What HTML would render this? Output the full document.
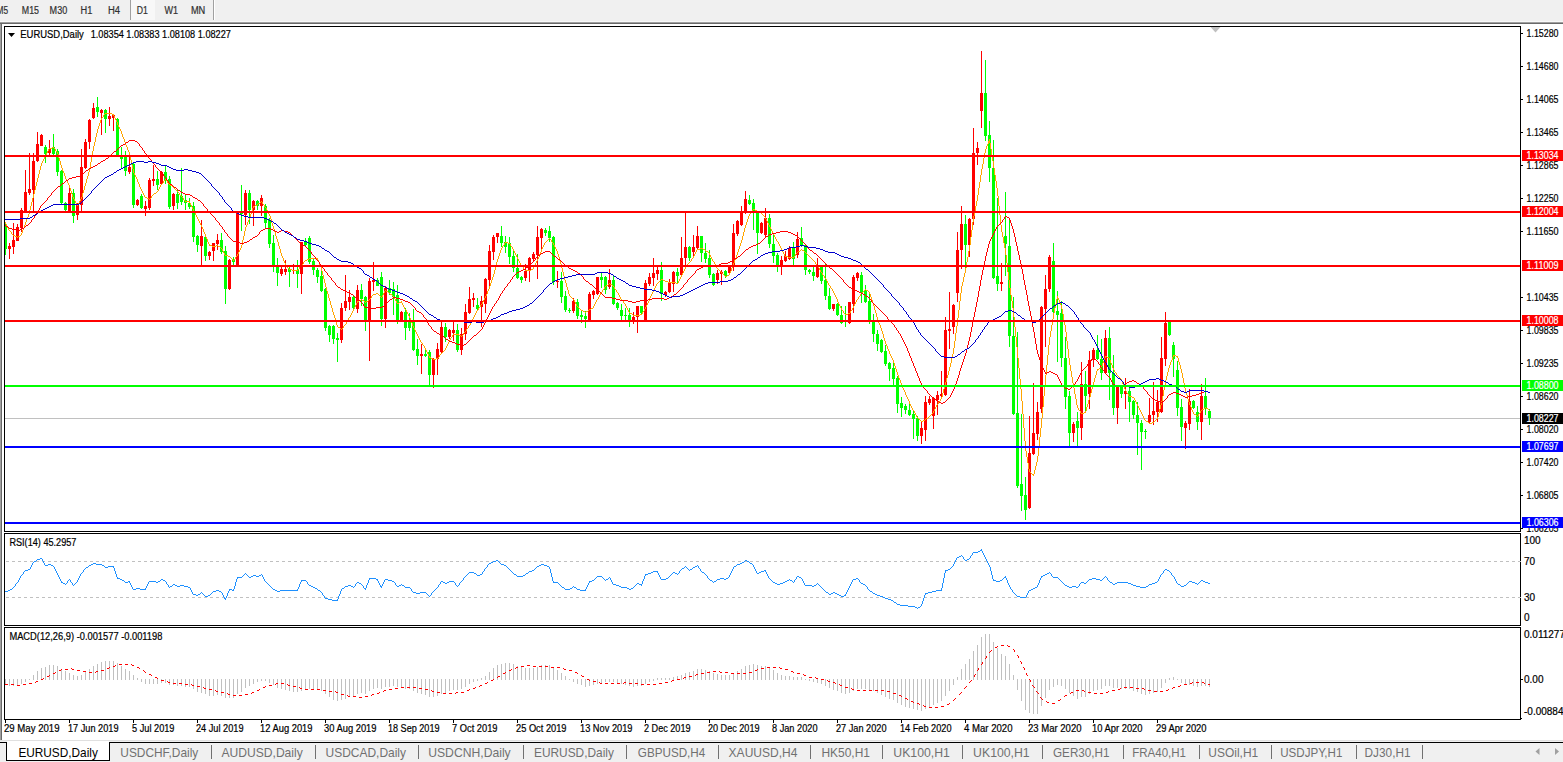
<!DOCTYPE html><html><head><meta charset="utf-8"><title>EURUSD,Daily</title>
<style>html,body{margin:0;padding:0;background:#fff;overflow:hidden}svg{display:block}text{font-family:"Liberation Sans",sans-serif;}</style></head><body>
<svg width="1563" height="762" viewBox="0 0 1563 762" shape-rendering="crispEdges">
<defs><clipPath id="cm"><rect x="5" y="27" width="1515" height="504"/></clipPath><clipPath id="cr"><rect x="5" y="534" width="1515" height="91"/></clipPath><clipPath id="cd"><rect x="5" y="628" width="1515" height="91"/></clipPath></defs>
<rect x="0" y="0" width="1563" height="762" fill="#ffffff"/>
<rect x="0" y="0" width="1563" height="22" fill="#f0f0f0"/>
<rect x="0" y="21" width="1563" height="1" fill="#f8f8f8"/>
<rect x="0" y="22" width="1563" height="1" fill="#a0a0a0"/>
<rect x="0" y="23" width="1563" height="1" fill="#696969"/>
<rect x="0" y="24" width="1" height="718" fill="#a0a0a0"/>
<rect x="1" y="24" width="1" height="718" fill="#696969"/>
<rect x="131" y="0" width="24" height="20" fill="#f8f8f8"/>
<rect x="130" y="0" width="1" height="20" fill="#a0a0a0"/>
<rect x="213" y="0" width="1" height="20" fill="#a0a0a0"/>
<rect x="214" y="0" width="1" height="20" fill="#ffffff"/>
<text x="-3.5" y="14" font-size="10" fill="#303030" stroke="#303030" stroke-width="0.2" textLength="11.6" lengthAdjust="spacingAndGlyphs" >M5</text>
<text x="21.8" y="14" font-size="10" fill="#303030" stroke="#303030" stroke-width="0.2" textLength="17.2" lengthAdjust="spacingAndGlyphs" >M15</text>
<text x="49.6" y="14" font-size="10" fill="#303030" stroke="#303030" stroke-width="0.2" textLength="17.6" lengthAdjust="spacingAndGlyphs" >M30</text>
<text x="80.6" y="14" font-size="10" fill="#303030" stroke="#303030" stroke-width="0.2" textLength="11.8" lengthAdjust="spacingAndGlyphs" >H1</text>
<text x="107.9" y="14" font-size="10" fill="#303030" stroke="#303030" stroke-width="0.2" textLength="12.1" lengthAdjust="spacingAndGlyphs" >H4</text>
<text x="136.8" y="14" font-size="10" fill="#303030" stroke="#303030" stroke-width="0.2" textLength="11.1" lengthAdjust="spacingAndGlyphs" >D1</text>
<text x="164.4" y="14" font-size="10" fill="#303030" stroke="#303030" stroke-width="0.2" textLength="13.6" lengthAdjust="spacingAndGlyphs" >W1</text>
<text x="190.9" y="14" font-size="10" fill="#303030" stroke="#303030" stroke-width="0.2" textLength="14.4" lengthAdjust="spacingAndGlyphs" >MN</text>
<rect x="4" y="26" width="1517" height="1" fill="#000"/>
<rect x="4" y="531" width="1517" height="1" fill="#000"/>
<rect x="4" y="26" width="1" height="506" fill="#000"/>
<rect x="1520" y="26" width="1" height="506" fill="#000"/>
<rect x="4" y="533" width="1517" height="1" fill="#000"/>
<rect x="4" y="625" width="1517" height="1" fill="#000"/>
<rect x="4" y="533" width="1" height="93" fill="#000"/>
<rect x="1520" y="533" width="1" height="93" fill="#000"/>
<rect x="4" y="627" width="1517" height="1" fill="#000"/>
<rect x="4" y="719" width="1517" height="1" fill="#000"/>
<rect x="4" y="627" width="1" height="93" fill="#000"/>
<rect x="1520" y="627" width="1" height="93" fill="#000"/>
<rect x="5" y="418" width="1515" height="1" fill="#c0c0c0"/>
<g clip-path="url(#cm)">
<rect x="5" y="222" width="1" height="33" fill="#00ff00"/>
<rect x="4" y="224" width="3" height="25" fill="#00ff00"/>
<rect x="9" y="243" width="1" height="16" fill="#ff0000"/>
<rect x="8" y="246" width="3" height="3" fill="#ff0000"/>
<rect x="13" y="223" width="1" height="31" fill="#ff0000"/>
<rect x="12" y="240" width="3" height="7" fill="#ff0000"/>
<rect x="17" y="224" width="1" height="17" fill="#ff0000"/>
<rect x="16" y="227" width="3" height="14" fill="#ff0000"/>
<rect x="21" y="208" width="1" height="24" fill="#ff0000"/>
<rect x="20" y="210" width="3" height="18" fill="#ff0000"/>
<rect x="25" y="170" width="1" height="43" fill="#ff0000"/>
<rect x="24" y="192" width="3" height="20" fill="#ff0000"/>
<rect x="29" y="153" width="1" height="42" fill="#ff0000"/>
<rect x="28" y="189" width="3" height="4" fill="#ff0000"/>
<rect x="33" y="153" width="1" height="59" fill="#ff0000"/>
<rect x="32" y="161" width="3" height="29" fill="#ff0000"/>
<rect x="37" y="132" width="1" height="30" fill="#ff0000"/>
<rect x="36" y="144" width="3" height="17" fill="#ff0000"/>
<rect x="41" y="134" width="1" height="12" fill="#ff0000"/>
<rect x="40" y="135" width="3" height="11" fill="#ff0000"/>
<rect x="45" y="145" width="1" height="18" fill="#00ff00"/>
<rect x="44" y="147" width="3" height="7" fill="#00ff00"/>
<rect x="49" y="140" width="1" height="17" fill="#ff0000"/>
<rect x="48" y="149" width="3" height="4" fill="#ff0000"/>
<rect x="53" y="134" width="1" height="21" fill="#00ff00"/>
<rect x="52" y="147" width="3" height="7" fill="#00ff00"/>
<rect x="57" y="149" width="1" height="27" fill="#00ff00"/>
<rect x="56" y="151" width="3" height="21" fill="#00ff00"/>
<rect x="61" y="170" width="1" height="34" fill="#00ff00"/>
<rect x="60" y="171" width="3" height="32" fill="#00ff00"/>
<rect x="65" y="202" width="1" height="9" fill="#00ff00"/>
<rect x="64" y="203" width="3" height="7" fill="#00ff00"/>
<rect x="69" y="188" width="1" height="24" fill="#ff0000"/>
<rect x="68" y="193" width="3" height="18" fill="#ff0000"/>
<rect x="73" y="189" width="1" height="34" fill="#00ff00"/>
<rect x="72" y="193" width="3" height="23" fill="#00ff00"/>
<rect x="77" y="203" width="1" height="17" fill="#ff0000"/>
<rect x="76" y="204" width="3" height="11" fill="#ff0000"/>
<rect x="81" y="149" width="1" height="63" fill="#ff0000"/>
<rect x="80" y="167" width="3" height="38" fill="#ff0000"/>
<rect x="85" y="139" width="1" height="30" fill="#ff0000"/>
<rect x="84" y="142" width="3" height="26" fill="#ff0000"/>
<rect x="89" y="119" width="1" height="30" fill="#ff0000"/>
<rect x="88" y="120" width="3" height="22" fill="#ff0000"/>
<rect x="93" y="103" width="1" height="16" fill="#ff0000"/>
<rect x="92" y="108" width="3" height="10" fill="#ff0000"/>
<rect x="97" y="97" width="1" height="20" fill="#00ff00"/>
<rect x="96" y="107" width="3" height="5" fill="#00ff00"/>
<rect x="101" y="109" width="1" height="26" fill="#ff0000"/>
<rect x="100" y="110" width="3" height="3" fill="#ff0000"/>
<rect x="105" y="109" width="1" height="24" fill="#00ff00"/>
<rect x="104" y="110" width="3" height="9" fill="#00ff00"/>
<rect x="109" y="107" width="1" height="19" fill="#ff0000"/>
<rect x="108" y="116" width="3" height="3" fill="#ff0000"/>
<rect x="113" y="114" width="1" height="17" fill="#ff0000"/>
<rect x="112" y="115" width="3" height="3" fill="#ff0000"/>
<rect x="117" y="118" width="1" height="38" fill="#00ff00"/>
<rect x="116" y="119" width="3" height="36" fill="#00ff00"/>
<rect x="121" y="147" width="1" height="21" fill="#00ff00"/>
<rect x="120" y="155" width="3" height="4" fill="#00ff00"/>
<rect x="125" y="151" width="1" height="25" fill="#00ff00"/>
<rect x="124" y="157" width="3" height="14" fill="#00ff00"/>
<rect x="129" y="157" width="1" height="17" fill="#ff0000"/>
<rect x="128" y="167" width="3" height="5" fill="#ff0000"/>
<rect x="133" y="162" width="1" height="46" fill="#00ff00"/>
<rect x="132" y="164" width="3" height="41" fill="#00ff00"/>
<rect x="137" y="199" width="1" height="7" fill="#ff0000"/>
<rect x="136" y="200" width="3" height="5" fill="#ff0000"/>
<rect x="141" y="194" width="1" height="15" fill="#00ff00"/>
<rect x="140" y="196" width="3" height="12" fill="#00ff00"/>
<rect x="145" y="201" width="1" height="15" fill="#ff0000"/>
<rect x="144" y="206" width="3" height="3" fill="#ff0000"/>
<rect x="149" y="178" width="1" height="32" fill="#ff0000"/>
<rect x="148" y="180" width="3" height="28" fill="#ff0000"/>
<rect x="153" y="165" width="1" height="21" fill="#ff0000"/>
<rect x="152" y="179" width="3" height="2" fill="#ff0000"/>
<rect x="157" y="171" width="1" height="19" fill="#00ff00"/>
<rect x="156" y="179" width="3" height="6" fill="#00ff00"/>
<rect x="161" y="171" width="1" height="14" fill="#ff0000"/>
<rect x="160" y="172" width="3" height="12" fill="#ff0000"/>
<rect x="165" y="166" width="1" height="18" fill="#00ff00"/>
<rect x="164" y="172" width="3" height="8" fill="#00ff00"/>
<rect x="169" y="176" width="1" height="33" fill="#00ff00"/>
<rect x="168" y="179" width="3" height="28" fill="#00ff00"/>
<rect x="173" y="193" width="1" height="17" fill="#ff0000"/>
<rect x="172" y="194" width="3" height="12" fill="#ff0000"/>
<rect x="177" y="190" width="1" height="19" fill="#00ff00"/>
<rect x="176" y="194" width="3" height="9" fill="#00ff00"/>
<rect x="181" y="168" width="1" height="37" fill="#00ff00"/>
<rect x="180" y="196" width="3" height="6" fill="#00ff00"/>
<rect x="185" y="195" width="1" height="15" fill="#00ff00"/>
<rect x="184" y="200" width="3" height="3" fill="#00ff00"/>
<rect x="189" y="198" width="1" height="11" fill="#00ff00"/>
<rect x="188" y="203" width="3" height="4" fill="#00ff00"/>
<rect x="193" y="202" width="1" height="40" fill="#00ff00"/>
<rect x="192" y="206" width="3" height="31" fill="#00ff00"/>
<rect x="197" y="235" width="1" height="17" fill="#00ff00"/>
<rect x="196" y="236" width="3" height="9" fill="#00ff00"/>
<rect x="201" y="220" width="1" height="46" fill="#ff0000"/>
<rect x="200" y="236" width="3" height="10" fill="#ff0000"/>
<rect x="205" y="237" width="1" height="24" fill="#00ff00"/>
<rect x="204" y="237" width="3" height="19" fill="#00ff00"/>
<rect x="209" y="251" width="1" height="9" fill="#ff0000"/>
<rect x="208" y="252" width="3" height="4" fill="#ff0000"/>
<rect x="213" y="243" width="1" height="18" fill="#ff0000"/>
<rect x="212" y="243" width="3" height="8" fill="#ff0000"/>
<rect x="217" y="234" width="1" height="16" fill="#ff0000"/>
<rect x="216" y="240" width="3" height="4" fill="#ff0000"/>
<rect x="221" y="233" width="1" height="21" fill="#00ff00"/>
<rect x="220" y="240" width="3" height="12" fill="#00ff00"/>
<rect x="225" y="246" width="1" height="58" fill="#00ff00"/>
<rect x="224" y="251" width="3" height="38" fill="#00ff00"/>
<rect x="229" y="259" width="1" height="31" fill="#ff0000"/>
<rect x="228" y="260" width="3" height="29" fill="#ff0000"/>
<rect x="233" y="257" width="1" height="8" fill="#00ff00"/>
<rect x="232" y="259" width="3" height="3" fill="#00ff00"/>
<rect x="237" y="212" width="1" height="54" fill="#ff0000"/>
<rect x="236" y="213" width="3" height="52" fill="#ff0000"/>
<rect x="241" y="185" width="1" height="46" fill="#00ff00"/>
<rect x="240" y="212" width="3" height="2" fill="#00ff00"/>
<rect x="245" y="190" width="1" height="35" fill="#ff0000"/>
<rect x="244" y="193" width="3" height="22" fill="#ff0000"/>
<rect x="249" y="190" width="1" height="34" fill="#00ff00"/>
<rect x="248" y="193" width="3" height="17" fill="#00ff00"/>
<rect x="253" y="200" width="1" height="26" fill="#ff0000"/>
<rect x="252" y="201" width="3" height="9" fill="#ff0000"/>
<rect x="257" y="200" width="1" height="10" fill="#00ff00"/>
<rect x="256" y="201" width="3" height="5" fill="#00ff00"/>
<rect x="261" y="195" width="1" height="21" fill="#ff0000"/>
<rect x="260" y="198" width="3" height="8" fill="#ff0000"/>
<rect x="265" y="204" width="1" height="25" fill="#00ff00"/>
<rect x="264" y="206" width="3" height="17" fill="#00ff00"/>
<rect x="269" y="218" width="1" height="30" fill="#00ff00"/>
<rect x="268" y="220" width="3" height="24" fill="#00ff00"/>
<rect x="273" y="235" width="1" height="37" fill="#00ff00"/>
<rect x="272" y="243" width="3" height="23" fill="#00ff00"/>
<rect x="277" y="258" width="1" height="28" fill="#00ff00"/>
<rect x="276" y="266" width="3" height="7" fill="#00ff00"/>
<rect x="281" y="267" width="1" height="9" fill="#ff0000"/>
<rect x="280" y="269" width="3" height="5" fill="#ff0000"/>
<rect x="285" y="260" width="1" height="15" fill="#ff0000"/>
<rect x="284" y="269" width="3" height="3" fill="#ff0000"/>
<rect x="289" y="267" width="1" height="20" fill="#00ff00"/>
<rect x="288" y="269" width="3" height="3" fill="#00ff00"/>
<rect x="293" y="264" width="1" height="10" fill="#ff0000"/>
<rect x="292" y="270" width="3" height="1" fill="#ff0000"/>
<rect x="297" y="260" width="1" height="28" fill="#00ff00"/>
<rect x="296" y="270" width="3" height="4" fill="#00ff00"/>
<rect x="301" y="242" width="1" height="52" fill="#ff0000"/>
<rect x="300" y="242" width="3" height="32" fill="#ff0000"/>
<rect x="305" y="238" width="1" height="9" fill="#00ff00"/>
<rect x="304" y="242" width="3" height="3" fill="#00ff00"/>
<rect x="309" y="236" width="1" height="28" fill="#00ff00"/>
<rect x="308" y="238" width="3" height="24" fill="#00ff00"/>
<rect x="313" y="258" width="1" height="17" fill="#00ff00"/>
<rect x="312" y="261" width="3" height="9" fill="#00ff00"/>
<rect x="317" y="268" width="1" height="15" fill="#00ff00"/>
<rect x="316" y="270" width="3" height="7" fill="#00ff00"/>
<rect x="321" y="268" width="1" height="24" fill="#00ff00"/>
<rect x="320" y="276" width="3" height="15" fill="#00ff00"/>
<rect x="325" y="288" width="1" height="43" fill="#00ff00"/>
<rect x="324" y="289" width="3" height="39" fill="#00ff00"/>
<rect x="329" y="325" width="1" height="17" fill="#00ff00"/>
<rect x="328" y="326" width="3" height="9" fill="#00ff00"/>
<rect x="333" y="325" width="1" height="19" fill="#00ff00"/>
<rect x="332" y="326" width="3" height="13" fill="#00ff00"/>
<rect x="337" y="333" width="1" height="29" fill="#00ff00"/>
<rect x="336" y="338" width="3" height="2" fill="#00ff00"/>
<rect x="341" y="303" width="1" height="40" fill="#ff0000"/>
<rect x="340" y="308" width="3" height="32" fill="#ff0000"/>
<rect x="345" y="275" width="1" height="36" fill="#ff0000"/>
<rect x="344" y="301" width="3" height="7" fill="#ff0000"/>
<rect x="349" y="290" width="1" height="20" fill="#ff0000"/>
<rect x="348" y="297" width="3" height="5" fill="#ff0000"/>
<rect x="353" y="295" width="1" height="15" fill="#00ff00"/>
<rect x="352" y="297" width="3" height="11" fill="#00ff00"/>
<rect x="357" y="285" width="1" height="28" fill="#ff0000"/>
<rect x="356" y="290" width="3" height="19" fill="#ff0000"/>
<rect x="361" y="284" width="1" height="22" fill="#00ff00"/>
<rect x="360" y="290" width="3" height="9" fill="#00ff00"/>
<rect x="365" y="296" width="1" height="35" fill="#00ff00"/>
<rect x="364" y="297" width="3" height="23" fill="#00ff00"/>
<rect x="369" y="278" width="1" height="83" fill="#ff0000"/>
<rect x="368" y="281" width="3" height="39" fill="#ff0000"/>
<rect x="373" y="262" width="1" height="29" fill="#ff0000"/>
<rect x="372" y="280" width="3" height="2" fill="#ff0000"/>
<rect x="377" y="278" width="1" height="8" fill="#00ff00"/>
<rect x="376" y="280" width="3" height="6" fill="#00ff00"/>
<rect x="381" y="272" width="1" height="54" fill="#00ff00"/>
<rect x="380" y="277" width="3" height="42" fill="#00ff00"/>
<rect x="385" y="286" width="1" height="42" fill="#ff0000"/>
<rect x="384" y="288" width="3" height="31" fill="#ff0000"/>
<rect x="389" y="280" width="1" height="15" fill="#00ff00"/>
<rect x="388" y="288" width="3" height="5" fill="#00ff00"/>
<rect x="393" y="282" width="1" height="33" fill="#00ff00"/>
<rect x="392" y="289" width="3" height="8" fill="#00ff00"/>
<rect x="397" y="285" width="1" height="39" fill="#00ff00"/>
<rect x="396" y="295" width="3" height="25" fill="#00ff00"/>
<rect x="401" y="311" width="1" height="11" fill="#ff0000"/>
<rect x="400" y="312" width="3" height="8" fill="#ff0000"/>
<rect x="405" y="308" width="1" height="32" fill="#00ff00"/>
<rect x="404" y="312" width="3" height="16" fill="#00ff00"/>
<rect x="409" y="313" width="1" height="18" fill="#00ff00"/>
<rect x="408" y="320" width="3" height="8" fill="#00ff00"/>
<rect x="413" y="309" width="1" height="42" fill="#00ff00"/>
<rect x="412" y="322" width="3" height="28" fill="#00ff00"/>
<rect x="417" y="339" width="1" height="26" fill="#00ff00"/>
<rect x="416" y="349" width="3" height="7" fill="#00ff00"/>
<rect x="421" y="344" width="1" height="30" fill="#ff0000"/>
<rect x="420" y="354" width="3" height="2" fill="#ff0000"/>
<rect x="425" y="350" width="1" height="7" fill="#00ff00"/>
<rect x="424" y="354" width="3" height="2" fill="#00ff00"/>
<rect x="429" y="350" width="1" height="36" fill="#00ff00"/>
<rect x="428" y="352" width="3" height="23" fill="#00ff00"/>
<rect x="433" y="358" width="1" height="30" fill="#ff0000"/>
<rect x="432" y="359" width="3" height="16" fill="#ff0000"/>
<rect x="437" y="343" width="1" height="32" fill="#ff0000"/>
<rect x="436" y="349" width="3" height="10" fill="#ff0000"/>
<rect x="441" y="321" width="1" height="32" fill="#ff0000"/>
<rect x="440" y="327" width="3" height="25" fill="#ff0000"/>
<rect x="445" y="323" width="1" height="19" fill="#00ff00"/>
<rect x="444" y="327" width="3" height="10" fill="#00ff00"/>
<rect x="449" y="329" width="1" height="10" fill="#ff0000"/>
<rect x="448" y="330" width="3" height="7" fill="#ff0000"/>
<rect x="453" y="321" width="1" height="20" fill="#ff0000"/>
<rect x="452" y="330" width="3" height="3" fill="#ff0000"/>
<rect x="457" y="324" width="1" height="28" fill="#00ff00"/>
<rect x="456" y="330" width="3" height="20" fill="#00ff00"/>
<rect x="461" y="328" width="1" height="27" fill="#ff0000"/>
<rect x="460" y="334" width="3" height="16" fill="#ff0000"/>
<rect x="465" y="304" width="1" height="36" fill="#ff0000"/>
<rect x="464" y="312" width="3" height="22" fill="#ff0000"/>
<rect x="469" y="287" width="1" height="27" fill="#ff0000"/>
<rect x="468" y="299" width="3" height="14" fill="#ff0000"/>
<rect x="473" y="293" width="1" height="14" fill="#ff0000"/>
<rect x="472" y="298" width="3" height="2" fill="#ff0000"/>
<rect x="477" y="298" width="1" height="12" fill="#00ff00"/>
<rect x="476" y="305" width="3" height="4" fill="#00ff00"/>
<rect x="481" y="296" width="1" height="31" fill="#ff0000"/>
<rect x="480" y="301" width="3" height="6" fill="#ff0000"/>
<rect x="485" y="278" width="1" height="35" fill="#ff0000"/>
<rect x="484" y="279" width="3" height="25" fill="#ff0000"/>
<rect x="489" y="245" width="1" height="43" fill="#ff0000"/>
<rect x="488" y="251" width="3" height="29" fill="#ff0000"/>
<rect x="493" y="235" width="1" height="25" fill="#ff0000"/>
<rect x="492" y="237" width="3" height="15" fill="#ff0000"/>
<rect x="497" y="233" width="1" height="10" fill="#ff0000"/>
<rect x="496" y="233" width="3" height="4" fill="#ff0000"/>
<rect x="501" y="226" width="1" height="21" fill="#00ff00"/>
<rect x="500" y="236" width="3" height="7" fill="#00ff00"/>
<rect x="505" y="236" width="1" height="17" fill="#00ff00"/>
<rect x="504" y="242" width="3" height="5" fill="#00ff00"/>
<rect x="509" y="237" width="1" height="27" fill="#00ff00"/>
<rect x="508" y="243" width="3" height="14" fill="#00ff00"/>
<rect x="513" y="250" width="1" height="22" fill="#00ff00"/>
<rect x="512" y="256" width="3" height="12" fill="#00ff00"/>
<rect x="517" y="254" width="1" height="25" fill="#00ff00"/>
<rect x="516" y="268" width="3" height="10" fill="#00ff00"/>
<rect x="521" y="276" width="1" height="7" fill="#00ff00"/>
<rect x="520" y="277" width="3" height="3" fill="#00ff00"/>
<rect x="525" y="264" width="1" height="17" fill="#ff0000"/>
<rect x="524" y="271" width="3" height="7" fill="#ff0000"/>
<rect x="529" y="257" width="1" height="25" fill="#ff0000"/>
<rect x="528" y="258" width="3" height="13" fill="#ff0000"/>
<rect x="533" y="252" width="1" height="10" fill="#ff0000"/>
<rect x="532" y="254" width="3" height="5" fill="#ff0000"/>
<rect x="537" y="226" width="1" height="53" fill="#ff0000"/>
<rect x="536" y="237" width="3" height="18" fill="#ff0000"/>
<rect x="541" y="228" width="1" height="23" fill="#ff0000"/>
<rect x="540" y="229" width="3" height="9" fill="#ff0000"/>
<rect x="545" y="228" width="1" height="8" fill="#00ff00"/>
<rect x="544" y="230" width="3" height="3" fill="#00ff00"/>
<rect x="549" y="226" width="1" height="16" fill="#00ff00"/>
<rect x="548" y="231" width="3" height="7" fill="#00ff00"/>
<rect x="553" y="236" width="1" height="49" fill="#00ff00"/>
<rect x="552" y="237" width="3" height="45" fill="#00ff00"/>
<rect x="557" y="271" width="1" height="17" fill="#ff0000"/>
<rect x="556" y="281" width="3" height="1" fill="#ff0000"/>
<rect x="561" y="272" width="1" height="31" fill="#00ff00"/>
<rect x="560" y="281" width="3" height="16" fill="#00ff00"/>
<rect x="565" y="291" width="1" height="21" fill="#00ff00"/>
<rect x="564" y="296" width="3" height="14" fill="#00ff00"/>
<rect x="569" y="308" width="1" height="5" fill="#00ff00"/>
<rect x="568" y="310" width="3" height="1" fill="#00ff00"/>
<rect x="573" y="298" width="1" height="15" fill="#ff0000"/>
<rect x="572" y="301" width="3" height="10" fill="#ff0000"/>
<rect x="577" y="299" width="1" height="20" fill="#00ff00"/>
<rect x="576" y="302" width="3" height="14" fill="#00ff00"/>
<rect x="581" y="310" width="1" height="13" fill="#00ff00"/>
<rect x="580" y="315" width="3" height="2" fill="#00ff00"/>
<rect x="585" y="311" width="1" height="17" fill="#00ff00"/>
<rect x="584" y="316" width="3" height="3" fill="#00ff00"/>
<rect x="589" y="292" width="1" height="28" fill="#ff0000"/>
<rect x="588" y="294" width="3" height="26" fill="#ff0000"/>
<rect x="593" y="290" width="1" height="9" fill="#ff0000"/>
<rect x="592" y="291" width="3" height="4" fill="#ff0000"/>
<rect x="597" y="277" width="1" height="18" fill="#ff0000"/>
<rect x="596" y="277" width="3" height="17" fill="#ff0000"/>
<rect x="601" y="273" width="1" height="15" fill="#00ff00"/>
<rect x="600" y="277" width="3" height="3" fill="#00ff00"/>
<rect x="605" y="276" width="1" height="18" fill="#00ff00"/>
<rect x="604" y="277" width="3" height="13" fill="#00ff00"/>
<rect x="609" y="269" width="1" height="20" fill="#ff0000"/>
<rect x="608" y="280" width="3" height="7" fill="#ff0000"/>
<rect x="613" y="275" width="1" height="30" fill="#00ff00"/>
<rect x="612" y="280" width="3" height="24" fill="#00ff00"/>
<rect x="617" y="302" width="1" height="8" fill="#00ff00"/>
<rect x="616" y="303" width="3" height="5" fill="#00ff00"/>
<rect x="621" y="304" width="1" height="16" fill="#00ff00"/>
<rect x="620" y="310" width="3" height="6" fill="#00ff00"/>
<rect x="625" y="308" width="1" height="12" fill="#00ff00"/>
<rect x="624" y="315" width="3" height="1" fill="#00ff00"/>
<rect x="629" y="308" width="1" height="19" fill="#00ff00"/>
<rect x="628" y="315" width="3" height="7" fill="#00ff00"/>
<rect x="633" y="312" width="1" height="12" fill="#ff0000"/>
<rect x="632" y="317" width="3" height="5" fill="#ff0000"/>
<rect x="637" y="306" width="1" height="27" fill="#ff0000"/>
<rect x="636" y="306" width="3" height="11" fill="#ff0000"/>
<rect x="641" y="306" width="1" height="9" fill="#00ff00"/>
<rect x="640" y="306" width="3" height="7" fill="#00ff00"/>
<rect x="645" y="280" width="1" height="41" fill="#ff0000"/>
<rect x="644" y="283" width="3" height="37" fill="#ff0000"/>
<rect x="649" y="273" width="1" height="13" fill="#ff0000"/>
<rect x="648" y="277" width="3" height="7" fill="#ff0000"/>
<rect x="653" y="258" width="1" height="28" fill="#ff0000"/>
<rect x="652" y="273" width="3" height="5" fill="#ff0000"/>
<rect x="657" y="266" width="1" height="14" fill="#ff0000"/>
<rect x="656" y="270" width="3" height="4" fill="#ff0000"/>
<rect x="661" y="262" width="1" height="39" fill="#00ff00"/>
<rect x="660" y="270" width="3" height="24" fill="#00ff00"/>
<rect x="665" y="291" width="1" height="6" fill="#ff0000"/>
<rect x="664" y="292" width="3" height="3" fill="#ff0000"/>
<rect x="669" y="279" width="1" height="14" fill="#ff0000"/>
<rect x="668" y="283" width="3" height="9" fill="#ff0000"/>
<rect x="673" y="271" width="1" height="21" fill="#ff0000"/>
<rect x="672" y="272" width="3" height="12" fill="#ff0000"/>
<rect x="677" y="268" width="1" height="16" fill="#00ff00"/>
<rect x="676" y="272" width="3" height="4" fill="#00ff00"/>
<rect x="681" y="237" width="1" height="40" fill="#ff0000"/>
<rect x="680" y="258" width="3" height="17" fill="#ff0000"/>
<rect x="685" y="213" width="1" height="53" fill="#ff0000"/>
<rect x="684" y="247" width="3" height="11" fill="#ff0000"/>
<rect x="689" y="246" width="1" height="15" fill="#00ff00"/>
<rect x="688" y="247" width="3" height="11" fill="#00ff00"/>
<rect x="693" y="235" width="1" height="21" fill="#ff0000"/>
<rect x="692" y="247" width="3" height="5" fill="#ff0000"/>
<rect x="697" y="226" width="1" height="23" fill="#ff0000"/>
<rect x="696" y="236" width="3" height="12" fill="#ff0000"/>
<rect x="701" y="236" width="1" height="26" fill="#00ff00"/>
<rect x="700" y="236" width="3" height="17" fill="#00ff00"/>
<rect x="705" y="243" width="1" height="20" fill="#00ff00"/>
<rect x="704" y="253" width="3" height="6" fill="#00ff00"/>
<rect x="709" y="250" width="1" height="28" fill="#00ff00"/>
<rect x="708" y="258" width="3" height="17" fill="#00ff00"/>
<rect x="713" y="273" width="1" height="13" fill="#00ff00"/>
<rect x="712" y="274" width="3" height="11" fill="#00ff00"/>
<rect x="717" y="270" width="1" height="14" fill="#ff0000"/>
<rect x="716" y="273" width="3" height="7" fill="#ff0000"/>
<rect x="721" y="270" width="1" height="15" fill="#ff0000"/>
<rect x="720" y="272" width="3" height="2" fill="#ff0000"/>
<rect x="725" y="270" width="1" height="8" fill="#00ff00"/>
<rect x="724" y="271" width="3" height="5" fill="#00ff00"/>
<rect x="729" y="265" width="1" height="10" fill="#ff0000"/>
<rect x="728" y="266" width="3" height="7" fill="#ff0000"/>
<rect x="733" y="224" width="1" height="47" fill="#ff0000"/>
<rect x="732" y="233" width="3" height="34" fill="#ff0000"/>
<rect x="737" y="220" width="1" height="16" fill="#ff0000"/>
<rect x="736" y="221" width="3" height="13" fill="#ff0000"/>
<rect x="741" y="206" width="1" height="20" fill="#ff0000"/>
<rect x="740" y="212" width="3" height="13" fill="#ff0000"/>
<rect x="745" y="191" width="1" height="23" fill="#ff0000"/>
<rect x="744" y="199" width="3" height="14" fill="#ff0000"/>
<rect x="749" y="195" width="1" height="10" fill="#00ff00"/>
<rect x="748" y="200" width="3" height="4" fill="#00ff00"/>
<rect x="753" y="199" width="1" height="31" fill="#00ff00"/>
<rect x="752" y="203" width="3" height="8" fill="#00ff00"/>
<rect x="757" y="212" width="1" height="42" fill="#00ff00"/>
<rect x="756" y="213" width="3" height="20" fill="#00ff00"/>
<rect x="761" y="222" width="1" height="12" fill="#ff0000"/>
<rect x="760" y="223" width="3" height="10" fill="#ff0000"/>
<rect x="765" y="208" width="1" height="29" fill="#ff0000"/>
<rect x="764" y="218" width="3" height="17" fill="#ff0000"/>
<rect x="769" y="214" width="1" height="34" fill="#00ff00"/>
<rect x="768" y="218" width="3" height="26" fill="#00ff00"/>
<rect x="773" y="233" width="1" height="30" fill="#00ff00"/>
<rect x="772" y="244" width="3" height="12" fill="#00ff00"/>
<rect x="777" y="253" width="1" height="19" fill="#00ff00"/>
<rect x="776" y="255" width="3" height="10" fill="#00ff00"/>
<rect x="781" y="256" width="1" height="19" fill="#ff0000"/>
<rect x="780" y="260" width="3" height="5" fill="#ff0000"/>
<rect x="785" y="251" width="1" height="11" fill="#ff0000"/>
<rect x="784" y="256" width="3" height="5" fill="#ff0000"/>
<rect x="789" y="246" width="1" height="14" fill="#ff0000"/>
<rect x="788" y="248" width="3" height="11" fill="#ff0000"/>
<rect x="793" y="242" width="1" height="23" fill="#00ff00"/>
<rect x="792" y="248" width="3" height="11" fill="#00ff00"/>
<rect x="797" y="232" width="1" height="26" fill="#ff0000"/>
<rect x="796" y="239" width="3" height="16" fill="#ff0000"/>
<rect x="801" y="227" width="1" height="20" fill="#00ff00"/>
<rect x="800" y="238" width="3" height="8" fill="#00ff00"/>
<rect x="805" y="244" width="1" height="31" fill="#00ff00"/>
<rect x="804" y="245" width="3" height="25" fill="#00ff00"/>
<rect x="809" y="269" width="1" height="5" fill="#00ff00"/>
<rect x="808" y="270" width="3" height="2" fill="#00ff00"/>
<rect x="813" y="267" width="1" height="14" fill="#00ff00"/>
<rect x="812" y="272" width="3" height="4" fill="#00ff00"/>
<rect x="817" y="258" width="1" height="20" fill="#ff0000"/>
<rect x="816" y="267" width="3" height="10" fill="#ff0000"/>
<rect x="821" y="266" width="1" height="18" fill="#00ff00"/>
<rect x="820" y="267" width="3" height="14" fill="#00ff00"/>
<rect x="825" y="264" width="1" height="36" fill="#00ff00"/>
<rect x="824" y="280" width="3" height="16" fill="#00ff00"/>
<rect x="829" y="288" width="1" height="22" fill="#00ff00"/>
<rect x="828" y="296" width="3" height="13" fill="#00ff00"/>
<rect x="833" y="304" width="1" height="7" fill="#ff0000"/>
<rect x="832" y="304" width="3" height="5" fill="#ff0000"/>
<rect x="837" y="303" width="1" height="13" fill="#00ff00"/>
<rect x="836" y="304" width="3" height="11" fill="#00ff00"/>
<rect x="841" y="306" width="1" height="18" fill="#00ff00"/>
<rect x="840" y="315" width="3" height="8" fill="#00ff00"/>
<rect x="845" y="306" width="1" height="21" fill="#00ff00"/>
<rect x="844" y="320" width="3" height="2" fill="#00ff00"/>
<rect x="849" y="302" width="1" height="22" fill="#ff0000"/>
<rect x="848" y="302" width="3" height="21" fill="#ff0000"/>
<rect x="853" y="275" width="1" height="38" fill="#ff0000"/>
<rect x="852" y="277" width="3" height="27" fill="#ff0000"/>
<rect x="857" y="272" width="1" height="9" fill="#ff0000"/>
<rect x="856" y="273" width="3" height="5" fill="#ff0000"/>
<rect x="861" y="272" width="1" height="31" fill="#00ff00"/>
<rect x="860" y="275" width="3" height="18" fill="#00ff00"/>
<rect x="865" y="285" width="1" height="18" fill="#00ff00"/>
<rect x="864" y="290" width="3" height="12" fill="#00ff00"/>
<rect x="869" y="294" width="1" height="30" fill="#00ff00"/>
<rect x="868" y="301" width="3" height="19" fill="#00ff00"/>
<rect x="873" y="314" width="1" height="28" fill="#00ff00"/>
<rect x="872" y="320" width="3" height="14" fill="#00ff00"/>
<rect x="877" y="330" width="1" height="21" fill="#00ff00"/>
<rect x="876" y="334" width="3" height="10" fill="#00ff00"/>
<rect x="881" y="339" width="1" height="14" fill="#00ff00"/>
<rect x="880" y="340" width="3" height="12" fill="#00ff00"/>
<rect x="885" y="345" width="1" height="21" fill="#00ff00"/>
<rect x="884" y="351" width="3" height="13" fill="#00ff00"/>
<rect x="889" y="362" width="1" height="19" fill="#00ff00"/>
<rect x="888" y="363" width="3" height="6" fill="#00ff00"/>
<rect x="893" y="361" width="1" height="24" fill="#00ff00"/>
<rect x="892" y="368" width="3" height="11" fill="#00ff00"/>
<rect x="897" y="376" width="1" height="37" fill="#00ff00"/>
<rect x="896" y="378" width="3" height="26" fill="#00ff00"/>
<rect x="901" y="397" width="1" height="20" fill="#00ff00"/>
<rect x="900" y="403" width="3" height="5" fill="#00ff00"/>
<rect x="905" y="404" width="1" height="10" fill="#00ff00"/>
<rect x="904" y="406" width="3" height="4" fill="#00ff00"/>
<rect x="909" y="403" width="1" height="13" fill="#00ff00"/>
<rect x="908" y="410" width="3" height="5" fill="#00ff00"/>
<rect x="913" y="410" width="1" height="29" fill="#00ff00"/>
<rect x="912" y="414" width="3" height="5" fill="#00ff00"/>
<rect x="917" y="416" width="1" height="25" fill="#00ff00"/>
<rect x="916" y="418" width="3" height="18" fill="#00ff00"/>
<rect x="921" y="422" width="1" height="22" fill="#ff0000"/>
<rect x="920" y="428" width="3" height="8" fill="#ff0000"/>
<rect x="925" y="396" width="1" height="45" fill="#ff0000"/>
<rect x="924" y="402" width="3" height="28" fill="#ff0000"/>
<rect x="929" y="396" width="1" height="9" fill="#ff0000"/>
<rect x="928" y="399" width="3" height="4" fill="#ff0000"/>
<rect x="933" y="397" width="1" height="32" fill="#ff0000"/>
<rect x="932" y="398" width="3" height="18" fill="#ff0000"/>
<rect x="937" y="391" width="1" height="24" fill="#ff0000"/>
<rect x="936" y="395" width="3" height="5" fill="#ff0000"/>
<rect x="941" y="371" width="1" height="27" fill="#ff0000"/>
<rect x="940" y="394" width="3" height="2" fill="#ff0000"/>
<rect x="945" y="317" width="1" height="79" fill="#ff0000"/>
<rect x="944" y="330" width="3" height="65" fill="#ff0000"/>
<rect x="949" y="292" width="1" height="57" fill="#ff0000"/>
<rect x="948" y="329" width="3" height="2" fill="#ff0000"/>
<rect x="953" y="304" width="1" height="30" fill="#ff0000"/>
<rect x="952" y="305" width="3" height="22" fill="#ff0000"/>
<rect x="957" y="232" width="1" height="70" fill="#ff0000"/>
<rect x="956" y="250" width="3" height="43" fill="#ff0000"/>
<rect x="961" y="206" width="1" height="63" fill="#ff0000"/>
<rect x="960" y="224" width="3" height="26" fill="#ff0000"/>
<rect x="965" y="215" width="1" height="53" fill="#00ff00"/>
<rect x="964" y="224" width="3" height="21" fill="#00ff00"/>
<rect x="969" y="218" width="1" height="39" fill="#ff0000"/>
<rect x="968" y="219" width="3" height="26" fill="#ff0000"/>
<rect x="973" y="128" width="1" height="97" fill="#ff0000"/>
<rect x="972" y="153" width="3" height="66" fill="#ff0000"/>
<rect x="977" y="142" width="1" height="23" fill="#ff0000"/>
<rect x="976" y="148" width="3" height="5" fill="#ff0000"/>
<rect x="981" y="51" width="1" height="77" fill="#ff0000"/>
<rect x="980" y="93" width="3" height="18" fill="#ff0000"/>
<rect x="985" y="60" width="1" height="81" fill="#00ff00"/>
<rect x="984" y="93" width="3" height="43" fill="#00ff00"/>
<rect x="989" y="121" width="1" height="61" fill="#00ff00"/>
<rect x="988" y="135" width="3" height="33" fill="#00ff00"/>
<rect x="993" y="140" width="1" height="139" fill="#00ff00"/>
<rect x="992" y="168" width="3" height="110" fill="#00ff00"/>
<rect x="997" y="198" width="1" height="93" fill="#00ff00"/>
<rect x="996" y="276" width="3" height="8" fill="#00ff00"/>
<rect x="1001" y="263" width="1" height="28" fill="#ff0000"/>
<rect x="1000" y="282" width="3" height="2" fill="#ff0000"/>
<rect x="1005" y="192" width="1" height="84" fill="#00ff00"/>
<rect x="1004" y="236" width="3" height="8" fill="#00ff00"/>
<rect x="1009" y="218" width="1" height="129" fill="#00ff00"/>
<rect x="1008" y="246" width="3" height="90" fill="#00ff00"/>
<rect x="1013" y="297" width="1" height="118" fill="#00ff00"/>
<rect x="1012" y="336" width="3" height="78" fill="#00ff00"/>
<rect x="1017" y="332" width="1" height="156" fill="#00ff00"/>
<rect x="1016" y="413" width="3" height="73" fill="#00ff00"/>
<rect x="1021" y="414" width="1" height="97" fill="#00ff00"/>
<rect x="1020" y="484" width="3" height="12" fill="#00ff00"/>
<rect x="1025" y="477" width="1" height="43" fill="#00ff00"/>
<rect x="1024" y="495" width="3" height="15" fill="#00ff00"/>
<rect x="1029" y="416" width="1" height="93" fill="#ff0000"/>
<rect x="1028" y="453" width="3" height="55" fill="#ff0000"/>
<rect x="1033" y="383" width="1" height="72" fill="#ff0000"/>
<rect x="1032" y="433" width="3" height="21" fill="#ff0000"/>
<rect x="1037" y="402" width="1" height="38" fill="#ff0000"/>
<rect x="1036" y="412" width="3" height="22" fill="#ff0000"/>
<rect x="1041" y="306" width="1" height="107" fill="#ff0000"/>
<rect x="1040" y="307" width="3" height="102" fill="#ff0000"/>
<rect x="1045" y="275" width="1" height="72" fill="#ff0000"/>
<rect x="1044" y="289" width="3" height="20" fill="#ff0000"/>
<rect x="1049" y="255" width="1" height="37" fill="#ff0000"/>
<rect x="1048" y="257" width="3" height="32" fill="#ff0000"/>
<rect x="1053" y="243" width="1" height="70" fill="#00ff00"/>
<rect x="1052" y="261" width="3" height="51" fill="#00ff00"/>
<rect x="1057" y="291" width="1" height="71" fill="#00ff00"/>
<rect x="1056" y="311" width="3" height="4" fill="#00ff00"/>
<rect x="1061" y="301" width="1" height="66" fill="#00ff00"/>
<rect x="1060" y="313" width="3" height="45" fill="#00ff00"/>
<rect x="1065" y="337" width="1" height="72" fill="#00ff00"/>
<rect x="1064" y="358" width="3" height="39" fill="#00ff00"/>
<rect x="1069" y="391" width="1" height="55" fill="#00ff00"/>
<rect x="1068" y="396" width="3" height="37" fill="#00ff00"/>
<rect x="1073" y="422" width="1" height="20" fill="#ff0000"/>
<rect x="1072" y="424" width="3" height="9" fill="#ff0000"/>
<rect x="1077" y="412" width="1" height="36" fill="#00ff00"/>
<rect x="1076" y="421" width="3" height="7" fill="#00ff00"/>
<rect x="1081" y="362" width="1" height="78" fill="#ff0000"/>
<rect x="1080" y="384" width="3" height="44" fill="#ff0000"/>
<rect x="1085" y="371" width="1" height="40" fill="#00ff00"/>
<rect x="1084" y="384" width="3" height="12" fill="#00ff00"/>
<rect x="1089" y="351" width="1" height="58" fill="#ff0000"/>
<rect x="1088" y="360" width="3" height="34" fill="#ff0000"/>
<rect x="1093" y="348" width="1" height="19" fill="#ff0000"/>
<rect x="1092" y="350" width="3" height="10" fill="#ff0000"/>
<rect x="1097" y="335" width="1" height="25" fill="#00ff00"/>
<rect x="1096" y="350" width="3" height="9" fill="#00ff00"/>
<rect x="1101" y="339" width="1" height="41" fill="#00ff00"/>
<rect x="1100" y="359" width="3" height="14" fill="#00ff00"/>
<rect x="1105" y="330" width="1" height="44" fill="#ff0000"/>
<rect x="1104" y="338" width="3" height="35" fill="#ff0000"/>
<rect x="1109" y="327" width="1" height="73" fill="#00ff00"/>
<rect x="1108" y="338" width="3" height="35" fill="#00ff00"/>
<rect x="1113" y="355" width="1" height="60" fill="#00ff00"/>
<rect x="1112" y="373" width="3" height="35" fill="#00ff00"/>
<rect x="1117" y="386" width="1" height="38" fill="#ff0000"/>
<rect x="1116" y="387" width="3" height="21" fill="#ff0000"/>
<rect x="1121" y="386" width="1" height="12" fill="#00ff00"/>
<rect x="1120" y="387" width="3" height="7" fill="#00ff00"/>
<rect x="1125" y="378" width="1" height="31" fill="#ff0000"/>
<rect x="1124" y="391" width="3" height="3" fill="#ff0000"/>
<rect x="1129" y="388" width="1" height="34" fill="#00ff00"/>
<rect x="1128" y="391" width="3" height="11" fill="#00ff00"/>
<rect x="1133" y="400" width="1" height="19" fill="#00ff00"/>
<rect x="1132" y="401" width="3" height="14" fill="#00ff00"/>
<rect x="1137" y="402" width="1" height="53" fill="#00ff00"/>
<rect x="1136" y="415" width="3" height="8" fill="#00ff00"/>
<rect x="1141" y="420" width="1" height="50" fill="#00ff00"/>
<rect x="1140" y="423" width="3" height="9" fill="#00ff00"/>
<rect x="1145" y="429" width="1" height="10" fill="#00ff00"/>
<rect x="1144" y="431" width="3" height="1" fill="#00ff00"/>
<rect x="1149" y="398" width="1" height="26" fill="#ff0000"/>
<rect x="1148" y="415" width="3" height="7" fill="#ff0000"/>
<rect x="1153" y="382" width="1" height="43" fill="#ff0000"/>
<rect x="1152" y="411" width="3" height="4" fill="#ff0000"/>
<rect x="1157" y="390" width="1" height="32" fill="#ff0000"/>
<rect x="1156" y="402" width="3" height="10" fill="#ff0000"/>
<rect x="1161" y="337" width="1" height="76" fill="#ff0000"/>
<rect x="1160" y="358" width="3" height="54" fill="#ff0000"/>
<rect x="1165" y="312" width="1" height="54" fill="#ff0000"/>
<rect x="1164" y="323" width="3" height="36" fill="#ff0000"/>
<rect x="1169" y="321" width="1" height="15" fill="#00ff00"/>
<rect x="1168" y="322" width="3" height="13" fill="#00ff00"/>
<rect x="1173" y="342" width="1" height="35" fill="#00ff00"/>
<rect x="1172" y="345" width="3" height="14" fill="#00ff00"/>
<rect x="1177" y="361" width="1" height="55" fill="#00ff00"/>
<rect x="1176" y="370" width="3" height="38" fill="#00ff00"/>
<rect x="1181" y="399" width="1" height="42" fill="#00ff00"/>
<rect x="1180" y="407" width="3" height="20" fill="#00ff00"/>
<rect x="1185" y="421" width="1" height="28" fill="#ff0000"/>
<rect x="1184" y="423" width="3" height="5" fill="#ff0000"/>
<rect x="1189" y="389" width="1" height="41" fill="#ff0000"/>
<rect x="1188" y="401" width="3" height="23" fill="#ff0000"/>
<rect x="1193" y="400" width="1" height="9" fill="#00ff00"/>
<rect x="1192" y="401" width="3" height="7" fill="#00ff00"/>
<rect x="1197" y="406" width="1" height="24" fill="#00ff00"/>
<rect x="1196" y="412" width="3" height="10" fill="#00ff00"/>
<rect x="1201" y="384" width="1" height="56" fill="#ff0000"/>
<rect x="1200" y="396" width="3" height="26" fill="#ff0000"/>
<rect x="1205" y="378" width="1" height="37" fill="#00ff00"/>
<rect x="1204" y="396" width="3" height="13" fill="#00ff00"/>
<rect x="1209" y="409" width="1" height="16" fill="#00ff00"/>
<rect x="1208" y="411" width="3" height="7" fill="#00ff00"/>
</g>
<path d="M5 222h1v2h-1zM6 224h1v2h-1zM7 226h1v2h-1zM8 228h1v2h-1zM9 230h1v1h-1zM10 231h1v1h-1zM11 232h1v2h-1zM12 234h1v1h-1zM13 235h2v1h-2zM15 236h2v1h-2zM17 237h1v1h-1zM18 236h2v1h-2zM20 235h1v1h-1zM21 233h1v2h-1zM22 230h1v3h-1zM23 228h1v2h-1zM24 225h1v3h-1zM25 222h1v3h-1zM26 219h1v3h-1zM27 217h1v2h-1zM28 214h1v3h-1zM29 210h1v4h-1zM30 206h1v4h-1zM31 202h1v4h-1zM32 198h1v4h-1zM33 194h1v4h-1zM34 190h1v4h-1zM35 186h1v4h-1zM36 182h1v4h-1zM37 178h1v4h-1zM38 174h1v4h-1zM39 170h1v4h-1zM40 166h1v4h-1zM41 163h1v3h-1zM42 161h1v2h-1zM43 159h1v2h-1zM44 157h1v2h-1zM45 155h1v2h-1zM46 153h1v2h-1zM47 151h1v2h-1zM48 149h1v2h-1zM49 148h3v1h-3zM52 147h2v1h-2zM54 148h1v1h-1zM55 149h1v2h-1zM56 151h1v1h-1zM57 152h1v2h-1zM58 154h1v4h-1zM59 158h1v3h-1zM60 161h1v4h-1zM61 165h1v3h-1zM62 168h1v3h-1zM63 171h1v2h-1zM64 173h1v3h-1zM65 176h1v3h-1zM66 179h1v2h-1zM67 181h1v2h-1zM68 183h1v2h-1zM69 185h1v3h-1zM70 188h1v3h-1zM71 191h1v3h-1zM72 194h1v3h-1zM73 197h1v2h-1zM74 199h1v2h-1zM75 201h1v2h-1zM76 203h1v2h-1zM77 205h1v1h-1zM78 203h1v2h-1zM79 201h1v2h-1zM80 199h1v2h-1zM81 197h1v2h-1zM82 193h1v4h-1zM83 190h1v3h-1zM84 186h1v4h-1zM85 183h1v3h-1zM86 179h1v4h-1zM87 176h1v3h-1zM88 172h1v4h-1zM89 168h1v4h-1zM90 162h1v6h-1zM91 157h1v5h-1zM92 151h1v6h-1zM93 146h1v5h-1zM94 142h1v4h-1zM95 137h1v5h-1zM96 133h1v4h-1zM97 129h1v4h-1zM98 126h1v3h-1zM99 123h1v3h-1zM100 120h1v3h-1zM101 118h1v2h-1zM102 117h1v1h-1zM103 115h1v2h-1zM104 114h1v1h-1zM105 113h7v1h-7zM112 114h2v1h-2zM113 115h1v1h-1zM114 116h1v2h-1zM115 118h1v2h-1zM116 120h1v2h-1zM117 122h1v3h-1zM118 125h1v2h-1zM119 127h1v2h-1zM120 129h1v2h-1zM121 131h1v3h-1zM122 134h1v3h-1zM123 137h1v2h-1zM124 139h1v3h-1zM125 142h1v3h-1zM126 145h1v2h-1zM127 147h1v3h-1zM128 150h1v2h-1zM129 152h1v4h-1zM130 156h1v4h-1zM131 160h1v5h-1zM132 165h1v4h-1zM133 169h1v4h-1zM134 173h1v2h-1zM135 175h1v2h-1zM136 177h1v2h-1zM137 179h1v3h-1zM138 182h1v2h-1zM139 184h1v3h-1zM140 187h1v2h-1zM141 189h1v2h-1zM142 191h1v2h-1zM143 193h1v2h-1zM144 195h1v2h-1zM145 197h2v1h-2zM147 198h2v1h-2zM149 199h1v1h-1zM150 198h1v1h-1zM151 196h1v2h-1zM152 195h1v1h-1zM153 194h1v1h-1zM154 193h2v1h-2zM156 192h1v1h-1zM157 191h1v1h-1zM158 189h1v2h-1zM159 187h1v2h-1zM160 185h1v2h-1zM161 184h1v1h-1zM162 183h1v1h-1zM163 181h1v2h-1zM164 180h1v1h-1zM165 179h1v1h-1zM166 180h1v1h-1zM167 181h1v2h-1zM168 183h1v1h-1zM169 184h1v1h-1zM170 185h2v1h-2zM172 186h1v1h-1zM173 187h1v1h-1zM174 188h1v1h-1zM175 189h1v1h-1zM176 190h1v1h-1zM177 191h1v1h-1zM178 192h1v1h-1zM179 193h1v2h-1zM180 195h1v1h-1zM181 196h1v1h-1zM182 197h1v1h-1zM183 198h1v2h-1zM184 200h1v1h-1zM185 201h5v1h-5zM189 202h1v1h-1zM190 203h1v2h-1zM191 205h1v2h-1zM192 207h1v2h-1zM193 209h1v2h-1zM194 211h1v2h-1zM195 213h1v2h-1zM196 215h1v2h-1zM197 217h1v2h-1zM198 219h1v2h-1zM199 221h1v2h-1zM200 223h1v2h-1zM201 225h1v2h-1zM202 227h1v2h-1zM203 229h1v3h-1zM204 232h1v2h-1zM205 234h1v3h-1zM206 237h1v2h-1zM207 239h1v3h-1zM208 242h1v2h-1zM209 244h1v2h-1zM210 245h2v1h-2zM212 246h4v1h-4zM216 245h2v1h-2zM218 246h2v1h-2zM220 247h1v1h-1zM221 248h1v1h-1zM222 249h1v2h-1zM223 251h1v2h-1zM224 253h1v2h-1zM225 255h3v1h-3zM228 256h2v1h-2zM230 257h1v1h-1zM231 258h1v1h-1zM232 259h1v1h-1zM233 260h1v1h-1zM234 259h1v1h-1zM235 257h1v2h-1zM236 256h1v1h-1zM237 254h1v2h-1zM238 252h1v2h-1zM239 250h1v2h-1zM240 248h1v2h-1zM241 245h1v3h-1zM242 240h1v5h-1zM243 236h1v4h-1zM244 231h1v5h-1zM245 227h1v4h-1zM246 225h1v2h-1zM247 222h1v3h-1zM248 220h1v2h-1zM249 217h1v3h-1zM250 214h1v3h-1zM251 211h1v3h-1zM252 208h1v3h-1zM253 206h1v2h-1zM254 206h1v1h-1zM255 205h2v1h-2zM257 204h1v1h-1zM258 203h2v1h-2zM260 202h1v1h-1zM261 201h1v1h-1zM262 202h1v2h-1zM263 204h1v1h-1zM264 205h1v2h-1zM265 207h1v1h-1zM266 208h1v2h-1zM267 210h1v2h-1zM268 212h1v2h-1zM269 214h1v2h-1zM270 216h1v3h-1zM271 219h1v4h-1zM272 223h1v3h-1zM273 226h1v3h-1zM274 229h1v3h-1zM275 232h1v4h-1zM276 236h1v3h-1zM277 239h1v3h-1zM278 242h1v4h-1zM279 246h1v3h-1zM280 249h1v4h-1zM281 253h1v3h-1zM282 256h1v2h-1zM283 258h1v3h-1zM284 261h1v2h-1zM285 263h1v2h-1zM286 265h1v1h-1zM287 266h1v2h-1zM288 268h1v1h-1zM289 269h3v1h-3zM292 270h6v1h-6zM298 269h1v1h-1zM299 267h1v2h-1zM300 266h1v1h-1zM301 265h1v1h-1zM302 264h1v1h-1zM303 262h1v2h-1zM304 261h1v1h-1zM305 260h2v1h-2zM307 259h2v1h-2zM309 258h9v1h-9zM317 259h1v1h-1zM318 260h1v2h-1zM319 262h1v3h-1zM320 265h1v2h-1zM321 267h1v4h-1zM322 271h1v4h-1zM323 275h1v4h-1zM324 279h1v4h-1zM325 283h1v4h-1zM326 287h1v4h-1zM327 291h1v3h-1zM328 294h1v4h-1zM329 298h1v3h-1zM330 301h1v4h-1zM331 305h1v3h-1zM332 308h1v4h-1zM333 312h1v3h-1zM334 315h1v3h-1zM335 318h1v4h-1zM336 322h1v3h-1zM337 325h1v2h-1zM338 327h2v1h-2zM340 328h1v1h-1zM341 329h1v1h-1zM342 328h1v1h-1zM343 326h1v2h-1zM344 325h1v1h-1zM345 324h1v1h-1zM346 322h1v2h-1zM347 320h1v2h-1zM348 318h1v2h-1zM349 317h1v1h-1zM350 315h1v2h-1zM351 313h1v2h-1zM352 311h1v2h-1zM353 309h1v2h-1zM354 307h1v2h-1zM355 305h1v2h-1zM356 303h1v2h-1zM357 301h1v2h-1zM358 301h1v1h-1zM359 300h2v1h-2zM361 299h1v1h-1zM362 300h2v1h-2zM364 301h1v1h-1zM365 302h1v1h-1zM366 301h2v1h-2zM368 300h1v1h-1zM369 299h1v1h-1zM370 298h1v1h-1zM371 296h1v2h-1zM372 295h1v1h-1zM373 294h3v1h-3zM376 293h2v1h-2zM378 294h1v1h-1zM379 295h1v1h-1zM380 296h1v1h-1zM381 297h1v1h-1zM382 295h1v2h-1zM383 293h1v2h-1zM384 291h1v2h-1zM385 290h1v1h-1zM386 291h2v1h-2zM388 292h1v1h-1zM389 293h1v1h-1zM390 294h2v1h-2zM392 295h1v1h-1zM393 296h1v1h-1zM394 297h1v2h-1zM395 299h1v2h-1zM396 301h1v2h-1zM397 303h2v1h-2zM399 302h2v1h-2zM401 301h1v2h-1zM402 303h1v2h-1zM403 305h1v2h-1zM404 307h1v2h-1zM405 309h1v1h-1zM406 310h1v2h-1zM407 312h1v2h-1zM408 314h1v2h-1zM409 316h1v2h-1zM410 318h1v3h-1zM411 321h1v2h-1zM412 323h1v3h-1zM413 326h1v2h-1zM414 328h1v2h-1zM415 330h1v2h-1zM416 332h1v2h-1zM417 334h1v2h-1zM418 336h1v2h-1zM419 338h1v2h-1zM420 340h1v2h-1zM421 342h1v1h-1zM422 343h1v2h-1zM423 345h1v1h-1zM424 346h1v2h-1zM425 348h1v2h-1zM426 350h1v2h-1zM427 352h1v2h-1zM428 354h1v2h-1zM429 356h1v2h-1zM430 357h1v1h-1zM431 358h2v1h-2zM433 359h3v1h-3zM436 358h2v1h-2zM438 357h1v1h-1zM439 355h1v2h-1zM440 354h1v1h-1zM441 353h1v1h-1zM442 352h1v1h-1zM443 351h1v1h-1zM444 350h1v1h-1zM445 348h1v2h-1zM446 346h1v2h-1zM447 344h1v2h-1zM448 342h1v2h-1zM449 340h1v2h-1zM450 338h1v2h-1zM451 337h1v1h-1zM452 335h1v2h-1zM453 334h6v1h-6zM459 335h2v1h-2zM461 336h1v1h-1zM462 335h1v1h-1zM463 333h1v2h-1zM464 332h1v1h-1zM465 331h1v1h-1zM466 329h1v2h-1zM467 328h1v1h-1zM468 326h1v2h-1zM469 325h1v1h-1zM470 323h1v2h-1zM471 321h1v2h-1zM472 319h1v2h-1zM473 317h1v2h-1zM474 315h1v2h-1zM475 313h1v2h-1zM476 311h1v2h-1zM477 310h1v1h-1zM478 308h1v2h-1zM479 307h1v1h-1zM480 305h1v2h-1zM481 304h1v1h-1zM482 302h1v2h-1zM483 300h1v2h-1zM484 298h1v2h-1zM485 296h1v2h-1zM486 294h1v2h-1zM487 291h1v3h-1zM488 289h1v2h-1zM489 286h1v3h-1zM490 283h1v3h-1zM491 280h1v3h-1zM492 277h1v3h-1zM493 274h1v3h-1zM494 270h1v4h-1zM495 266h1v4h-1zM496 262h1v4h-1zM497 259h1v3h-1zM498 256h1v3h-1zM499 253h1v3h-1zM500 250h1v3h-1zM501 248h1v2h-1zM502 246h1v2h-1zM503 245h1v1h-1zM504 243h1v2h-1zM505 242h3v1h-3zM508 243h2v1h-2zM510 244h1v2h-1zM511 246h1v1h-1zM512 247h1v2h-1zM513 249h1v2h-1zM514 251h1v2h-1zM515 253h1v2h-1zM516 255h1v2h-1zM517 257h1v2h-1zM518 259h1v2h-1zM519 261h1v2h-1zM520 263h1v2h-1zM521 265h1v1h-1zM522 266h1v1h-1zM523 267h1v2h-1zM524 269h1v1h-1zM525 270h6v1h-6zM531 269h2v1h-2zM533 267h1v2h-1zM534 265h1v2h-1zM535 263h1v2h-1zM536 261h1v2h-1zM537 259h1v2h-1zM538 257h1v2h-1zM539 254h1v3h-1zM540 252h1v2h-1zM541 249h1v3h-1zM542 247h1v2h-1zM543 245h1v2h-1zM544 243h1v2h-1zM545 242h1v1h-1zM546 241h1v1h-1zM547 240h1v1h-1zM548 239h1v1h-1zM549 238h1v1h-1zM550 239h1v1h-1zM551 240h1v2h-1zM552 242h1v1h-1zM553 243h1v2h-1zM554 245h1v2h-1zM555 247h1v2h-1zM556 249h1v2h-1zM557 251h1v3h-1zM558 254h1v3h-1zM559 257h1v4h-1zM560 261h1v3h-1zM561 264h1v4h-1zM562 268h1v4h-1zM563 272h1v4h-1zM564 276h1v4h-1zM565 280h1v3h-1zM566 283h1v4h-1zM567 287h1v3h-1zM568 290h1v4h-1zM569 294h1v2h-1zM570 296h1v1h-1zM571 297h1v1h-1zM572 298h1v1h-1zM573 299h1v1h-1zM574 300h1v2h-1zM575 302h1v2h-1zM576 304h1v2h-1zM577 306h1v1h-1zM578 307h1v1h-1zM579 308h1v1h-1zM580 309h1v1h-1zM581 310h2v1h-2zM583 311h2v1h-2zM585 312h1v1h-1zM586 311h2v1h-2zM588 310h1v1h-1zM589 309h2v1h-2zM591 308h2v1h-2zM593 306h1v2h-1zM594 304h1v2h-1zM595 302h1v2h-1zM596 300h1v2h-1zM597 299h1v1h-1zM598 297h1v2h-1zM599 295h1v2h-1zM600 293h1v2h-1zM601 292h1v1h-1zM602 290h1v2h-1zM603 289h1v1h-1zM604 287h1v2h-1zM605 286h1v1h-1zM606 285h2v1h-2zM608 284h1v1h-1zM609 283h1v1h-1zM610 284h2v1h-2zM612 285h1v1h-1zM613 286h1v1h-1zM614 287h1v2h-1zM615 289h1v1h-1zM616 290h1v2h-1zM617 292h1v1h-1zM618 293h1v2h-1zM619 295h1v2h-1zM620 297h1v2h-1zM621 299h1v1h-1zM622 300h1v1h-1zM623 301h1v2h-1zM624 303h1v1h-1zM625 304h1v2h-1zM626 306h1v2h-1zM627 308h1v2h-1zM628 310h1v2h-1zM629 312h1v1h-1zM630 313h2v1h-2zM632 314h1v1h-1zM633 315h7v1h-7zM640 314h2v1h-2zM642 312h1v2h-1zM643 311h1v1h-1zM644 309h1v2h-1zM645 307h1v2h-1zM646 305h1v2h-1zM647 303h1v2h-1zM648 301h1v2h-1zM649 298h1v3h-1zM650 296h1v2h-1zM651 294h1v2h-1zM652 292h1v2h-1zM653 290h1v2h-1zM654 288h1v2h-1zM655 286h1v2h-1zM656 284h1v2h-1zM657 283h1v1h-1zM658 282h1v1h-1zM659 281h1v1h-1zM660 280h1v1h-1zM661 279h2v1h-2zM663 280h2v1h-2zM665 281h3v1h-3zM668 282h8v1h-8zM676 283h2v1h-2zM678 281h1v2h-1zM679 279h1v2h-1zM680 277h1v2h-1zM681 275h1v2h-1zM682 273h1v2h-1zM683 271h1v2h-1zM684 269h1v2h-1zM685 267h1v2h-1zM686 266h1v1h-1zM687 264h1v2h-1zM688 263h1v1h-1zM689 262h1v1h-1zM690 261h1v1h-1zM691 259h1v2h-1zM692 258h1v1h-1zM693 256h1v2h-1zM694 254h1v2h-1zM695 252h1v2h-1zM696 250h1v2h-1zM697 249h3v1h-3zM700 248h3v1h-3zM703 249h2v1h-2zM705 250h1v1h-1zM706 251h2v1h-2zM708 252h1v1h-1zM709 253h1v2h-1zM710 255h1v2h-1zM711 257h1v2h-1zM712 259h1v2h-1zM713 261h1v1h-1zM714 262h1v2h-1zM715 264h1v2h-1zM716 266h1v2h-1zM717 268h1v1h-1zM718 269h1v1h-1zM719 270h1v1h-1zM720 271h1v1h-1zM721 272h1v1h-1zM722 273h1v1h-1zM723 274h1v1h-1zM724 275h1v1h-1zM725 276h2v1h-2zM727 275h2v1h-2zM729 273h1v2h-1zM730 271h1v2h-1zM731 268h1v3h-1zM732 266h1v2h-1zM733 263h1v3h-1zM734 260h1v3h-1zM735 258h1v2h-1zM736 255h1v3h-1zM737 252h1v3h-1zM738 249h1v3h-1zM739 246h1v3h-1zM740 243h1v3h-1zM741 240h1v3h-1zM742 236h1v4h-1zM743 232h1v4h-1zM744 228h1v4h-1zM745 225h1v3h-1zM746 222h1v3h-1zM747 219h1v3h-1zM748 216h1v3h-1zM749 214h1v2h-1zM750 213h1v1h-1zM751 211h1v2h-1zM752 210h1v1h-1zM753 209h2v1h-2zM755 210h2v1h-2zM757 211h2v1h-2zM759 212h2v1h-2zM761 213h1v1h-1zM762 214h1v1h-1zM763 215h1v1h-1zM764 216h1v1h-1zM765 217h1v2h-1zM766 219h1v2h-1zM767 221h1v2h-1zM768 223h1v2h-1zM769 225h1v2h-1zM770 227h1v2h-1zM771 229h1v2h-1zM772 231h1v2h-1zM773 233h1v2h-1zM774 235h1v2h-1zM775 237h1v2h-1zM776 239h1v2h-1zM777 241h1v1h-1zM778 242h1v2h-1zM779 244h1v2h-1zM780 246h1v2h-1zM781 248h1v2h-1zM782 250h1v2h-1zM783 252h1v2h-1zM784 254h1v2h-1zM785 256h3v1h-3zM788 257h6v1h-6zM794 256h1v1h-1zM795 254h1v2h-1zM796 253h1v1h-1zM797 252h1v1h-1zM798 251h2v1h-2zM800 250h1v1h-1zM801 249h1v1h-1zM802 250h2v1h-2zM804 251h1v1h-1zM805 252h1v1h-1zM806 253h1v1h-1zM807 254h1v1h-1zM808 255h1v1h-1zM809 256h1v1h-1zM810 257h1v1h-1zM811 258h1v1h-1zM812 259h1v1h-1zM813 260h1v1h-1zM814 261h1v1h-1zM815 262h1v2h-1zM816 264h1v1h-1zM817 265h1v1h-1zM818 266h1v2h-1zM819 268h1v2h-1zM820 270h1v2h-1zM821 272h1v1h-1zM822 273h1v2h-1zM823 275h1v1h-1zM824 276h1v2h-1zM825 278h1v1h-1zM826 279h1v2h-1zM827 281h1v2h-1zM828 283h1v2h-1zM829 285h1v1h-1zM830 286h1v2h-1zM831 288h1v1h-1zM832 289h1v2h-1zM833 291h1v2h-1zM834 293h1v2h-1zM835 295h1v2h-1zM836 297h1v2h-1zM837 299h1v3h-1zM838 302h1v2h-1zM839 304h1v2h-1zM840 306h1v2h-1zM841 308h1v2h-1zM842 310h1v1h-1zM843 311h1v2h-1zM844 313h1v1h-1zM845 314h3v1h-3zM848 313h2v1h-2zM850 311h1v2h-1zM851 310h1v1h-1zM852 308h1v2h-1zM853 306h1v2h-1zM854 304h1v2h-1zM855 302h1v2h-1zM856 300h1v2h-1zM857 299h1v1h-1zM858 297h1v2h-1zM859 296h1v1h-1zM860 294h1v2h-1zM861 293h1v1h-1zM862 292h1v1h-1zM863 291h1v1h-1zM864 290h1v1h-1zM865 289h1v1h-1zM866 290h2v1h-2zM868 291h1v1h-1zM869 292h1v2h-1zM870 294h1v3h-1zM871 297h1v3h-1zM872 300h1v3h-1zM873 303h1v3h-1zM874 306h1v4h-1zM875 310h1v3h-1zM876 313h1v4h-1zM877 317h1v3h-1zM878 320h1v3h-1zM879 323h1v2h-1zM880 325h1v3h-1zM881 328h1v3h-1zM882 331h1v3h-1zM883 334h1v4h-1zM884 338h1v3h-1zM885 341h1v3h-1zM886 344h1v2h-1zM887 346h1v3h-1zM888 349h1v2h-1zM889 351h1v3h-1zM890 354h1v2h-1zM891 356h1v2h-1zM892 358h1v2h-1zM893 360h1v3h-1zM894 363h1v3h-1zM895 366h1v3h-1zM896 369h1v3h-1zM897 372h1v3h-1zM898 375h1v3h-1zM899 378h1v2h-1zM900 380h1v3h-1zM901 383h1v3h-1zM902 386h1v2h-1zM903 388h1v2h-1zM904 390h1v2h-1zM905 392h1v3h-1zM906 395h1v2h-1zM907 397h1v2h-1zM908 399h1v2h-1zM909 401h1v3h-1zM910 404h1v2h-1zM911 406h1v2h-1zM912 408h1v2h-1zM913 410h1v1h-1zM914 411h1v2h-1zM915 413h1v2h-1zM916 415h1v2h-1zM917 417h1v1h-1zM918 418h1v1h-1zM919 419h1v1h-1zM920 420h1v1h-1zM921 421h2v1h-2zM923 420h2v1h-2zM925 419h1v1h-1zM926 418h2v1h-2zM928 417h1v1h-1zM929 416h1v1h-1zM930 415h1v1h-1zM931 414h1v1h-1zM932 413h1v1h-1zM933 411h1v2h-1zM934 409h1v2h-1zM935 407h1v2h-1zM936 405h1v2h-1zM937 404h1v1h-1zM938 402h1v2h-1zM939 401h1v1h-1zM940 399h1v2h-1zM941 397h1v2h-1zM942 393h1v4h-1zM943 389h1v4h-1zM944 385h1v4h-1zM945 382h1v3h-1zM946 378h1v4h-1zM947 375h1v3h-1zM948 371h1v4h-1zM949 367h1v4h-1zM950 363h1v4h-1zM951 358h1v5h-1zM952 354h1v4h-1zM953 348h1v6h-1zM954 341h1v7h-1zM955 333h1v8h-1zM956 326h1v7h-1zM957 318h1v8h-1zM958 310h1v8h-1zM959 301h1v9h-1zM960 293h1v8h-1zM961 286h1v7h-1zM962 282h1v4h-1zM963 277h1v5h-1zM964 273h1v4h-1zM965 268h1v5h-1zM966 262h1v6h-1zM967 257h1v5h-1zM968 251h1v6h-1zM969 245h1v6h-1zM970 237h1v8h-1zM971 230h1v7h-1zM972 222h1v8h-1zM973 216h1v6h-1zM974 211h1v5h-1zM975 206h1v5h-1zM976 201h1v5h-1zM977 195h1v6h-1zM978 188h1v7h-1zM979 182h1v6h-1zM980 175h1v7h-1zM981 169h1v6h-1zM982 164h1v5h-1zM983 158h1v6h-1zM984 153h1v5h-1zM985 149h1v4h-1zM986 146h1v3h-1zM987 144h1v2h-1zM988 141h1v3h-1zM989 139h1v4h-1zM990 143h1v6h-1zM991 149h1v6h-1zM992 155h1v6h-1zM993 161h1v7h-1zM994 168h1v7h-1zM995 175h1v6h-1zM996 181h1v7h-1zM997 188h1v8h-1zM998 196h1v10h-1zM999 206h1v9h-1zM1000 215h1v10h-1zM1001 225h1v7h-1zM1002 232h1v5h-1zM1003 237h1v6h-1zM1004 243h1v5h-1zM1005 248h1v7h-1zM1006 255h1v8h-1zM1007 263h1v9h-1zM1008 272h1v8h-1zM1009 280h1v8h-1zM1010 288h1v7h-1zM1011 295h1v6h-1zM1012 301h1v7h-1zM1013 308h1v9h-1zM1014 317h1v10h-1zM1015 327h1v10h-1zM1016 337h1v10h-1zM1017 347h1v11h-1zM1018 358h1v10h-1zM1019 368h1v11h-1zM1020 379h1v10h-1zM1021 389h1v12h-1zM1022 401h1v13h-1zM1023 414h1v14h-1zM1024 428h1v13h-1zM1025 441h1v10h-1zM1026 451h1v6h-1zM1027 457h1v6h-1zM1028 463h1v6h-1zM1029 469h1v3h-1zM1030 472h1v1h-1zM1031 473h1v1h-1zM1032 474h1v1h-1zM1033 474h1v2h-1zM1034 470h1v4h-1zM1035 466h1v4h-1zM1036 462h1v4h-1zM1037 456h1v6h-1zM1038 447h1v9h-1zM1039 437h1v10h-1zM1040 428h1v9h-1zM1041 418h1v10h-1zM1042 407h1v11h-1zM1043 396h1v11h-1zM1044 385h1v11h-1zM1045 375h1v10h-1zM1046 365h1v10h-1zM1047 355h1v10h-1zM1048 345h1v10h-1zM1049 337h1v8h-1zM1050 331h1v6h-1zM1051 325h1v6h-1zM1052 319h1v6h-1zM1053 313h1v6h-1zM1054 308h1v5h-1zM1055 304h1v4h-1zM1056 299h1v5h-1zM1057 296h1v3h-1zM1058 298h1v2h-1zM1059 300h1v3h-1zM1060 303h1v2h-1zM1061 305h1v4h-1zM1062 309h1v5h-1zM1063 314h1v6h-1zM1064 320h1v5h-1zM1065 325h1v7h-1zM1066 332h1v9h-1zM1067 341h1v8h-1zM1068 349h1v9h-1zM1069 358h1v7h-1zM1070 365h1v6h-1zM1071 371h1v6h-1zM1072 377h1v6h-1zM1073 383h1v5h-1zM1074 388h1v6h-1zM1075 394h1v5h-1zM1076 399h1v6h-1zM1077 405h1v3h-1zM1078 408h1v2h-1zM1079 410h1v1h-1zM1080 411h1v2h-1zM1081 413h3v1h-3zM1084 412h2v1h-2zM1085 411h1v1h-1zM1086 407h1v4h-1zM1087 404h1v3h-1zM1088 400h1v4h-1zM1089 397h1v3h-1zM1090 393h1v4h-1zM1091 389h1v4h-1zM1092 385h1v4h-1zM1093 382h1v3h-1zM1094 378h1v4h-1zM1095 375h1v3h-1zM1096 371h1v4h-1zM1097 369h1v2h-1zM1098 369h1v1h-1zM1099 368h2v1h-2zM1101 366h1v2h-1zM1102 363h1v3h-1zM1103 361h1v2h-1zM1104 358h1v3h-1zM1105 356h1v2h-1zM1106 356h1v1h-1zM1107 357h2v1h-2zM1109 358h1v2h-1zM1110 360h1v3h-1zM1111 363h1v2h-1zM1112 365h1v3h-1zM1113 368h1v2h-1zM1114 370h1v2h-1zM1115 372h1v1h-1zM1116 373h1v2h-1zM1117 375h1v1h-1zM1118 376h1v1h-1zM1119 377h1v1h-1zM1120 378h1v1h-1zM1121 379h1v2h-1zM1122 381h1v3h-1zM1123 384h1v2h-1zM1124 386h1v3h-1zM1125 389h1v2h-1zM1126 391h1v2h-1zM1127 393h1v1h-1zM1128 394h1v2h-1zM1129 396h3v1h-3zM1132 397h2v1h-2zM1134 398h1v2h-1zM1135 400h1v2h-1zM1136 402h1v2h-1zM1137 404h1v2h-1zM1138 406h1v2h-1zM1139 408h1v2h-1zM1140 410h1v2h-1zM1141 412h1v2h-1zM1142 414h1v2h-1zM1143 416h1v2h-1zM1144 418h1v2h-1zM1145 420h1v1h-1zM1146 421h2v1h-2zM1148 422h1v1h-1zM1149 423h3v1h-3zM1152 422h2v1h-2zM1154 421h1v1h-1zM1155 420h1v1h-1zM1156 419h1v1h-1zM1157 417h1v2h-1zM1158 413h1v4h-1zM1159 409h1v4h-1zM1160 405h1v4h-1zM1161 401h1v4h-1zM1162 396h1v5h-1zM1163 390h1v6h-1zM1164 385h1v5h-1zM1165 380h1v5h-1zM1166 376h1v4h-1zM1167 372h1v4h-1zM1168 368h1v4h-1zM1169 365h1v3h-1zM1170 362h1v3h-1zM1171 360h1v2h-1zM1172 357h1v3h-1zM1173 355h1v2h-1zM1174 355h2v1h-2zM1176 356h2v1h-2zM1177 357h1v1h-1zM1178 358h1v4h-1zM1179 362h1v3h-1zM1180 365h1v4h-1zM1181 369h1v4h-1zM1182 373h1v5h-1zM1183 378h1v5h-1zM1184 383h1v5h-1zM1185 388h1v4h-1zM1186 392h1v3h-1zM1187 395h1v4h-1zM1188 399h1v3h-1zM1189 402h1v3h-1zM1190 405h1v2h-1zM1191 407h1v3h-1zM1192 410h1v2h-1zM1193 412h1v2h-1zM1194 414h2v1h-2zM1196 415h1v1h-1zM1197 416h1v1h-1zM1198 414h1v2h-1zM1199 413h1v1h-1zM1200 411h1v2h-1zM1201 410h1v1h-1zM1202 409h2v1h-2zM1204 408h1v1h-1zM1205 407h1v1h-1zM1206 408h2v1h-2zM1208 409h1v1h-1zM1209 410h1v1h-1z" fill="#ffa500"/>
<path d="M5 225h1v1h-1zM6 226h2v1h-2zM8 227h1v1h-1zM9 228h3v1h-3zM12 229h4v1h-4zM16 230h4v1h-4zM20 229h2v1h-2zM22 228h2v1h-2zM24 227h1v1h-1zM25 226h1v1h-1zM26 225h2v1h-2zM28 224h1v1h-1zM29 223h1v1h-1zM30 222h1v1h-1zM31 220h1v2h-1zM32 219h1v1h-1zM33 218h1v1h-1zM34 216h1v2h-1zM35 215h1v1h-1zM36 213h1v2h-1zM37 212h1v1h-1zM38 210h1v2h-1zM39 208h1v2h-1zM40 206h1v2h-1zM41 205h1v1h-1zM42 204h1v1h-1zM43 203h1v1h-1zM44 202h1v1h-1zM45 201h1v1h-1zM46 200h1v1h-1zM47 198h1v2h-1zM48 197h1v1h-1zM49 196h1v1h-1zM50 195h1v1h-1zM51 193h1v2h-1zM52 192h1v1h-1zM53 191h1v1h-1zM54 190h1v1h-1zM55 189h1v1h-1zM56 188h1v1h-1zM57 187h1v1h-1zM58 186h2v1h-2zM60 185h1v1h-1zM61 184h1v1h-1zM62 183h2v1h-2zM64 182h1v1h-1zM65 181h1v1h-1zM66 180h2v1h-2zM68 179h1v1h-1zM69 178h3v1h-3zM72 177h4v1h-4zM76 176h4v1h-4zM80 175h2v1h-2zM82 174h1v1h-1zM83 173h1v1h-1zM84 172h1v1h-1zM85 171h1v1h-1zM86 170h2v1h-2zM88 169h1v1h-1zM89 168h2v1h-2zM91 167h2v1h-2zM93 166h2v1h-2zM95 165h2v1h-2zM97 164h1v1h-1zM98 163h2v1h-2zM100 162h1v1h-1zM101 161h2v1h-2zM103 160h2v1h-2zM105 159h1v1h-1zM106 158h2v1h-2zM108 157h1v1h-1zM109 156h1v1h-1zM110 155h1v1h-1zM111 154h1v1h-1zM112 153h1v1h-1zM113 152h1v1h-1zM114 151h2v1h-2zM116 150h1v1h-1zM117 149h1v1h-1zM118 148h1v1h-1zM119 147h1v1h-1zM120 146h1v1h-1zM121 145h2v1h-2zM123 144h2v1h-2zM125 143h1v1h-1zM126 142h2v1h-2zM128 141h1v1h-1zM129 140h6v1h-6zM135 141h2v1h-2zM137 142h1v1h-1zM138 143h1v1h-1zM139 144h1v2h-1zM140 146h1v1h-1zM141 147h1v1h-1zM142 148h1v2h-1zM143 150h1v1h-1zM144 151h1v2h-1zM145 153h1v1h-1zM146 154h1v1h-1zM147 155h1v2h-1zM148 157h1v1h-1zM149 158h1v1h-1zM150 159h1v1h-1zM151 160h1v2h-1zM152 162h1v1h-1zM153 163h1v1h-1zM154 164h1v1h-1zM155 165h1v2h-1zM156 167h1v1h-1zM157 168h1v1h-1zM158 169h1v1h-1zM159 170h1v1h-1zM160 171h1v1h-1zM161 172h1v1h-1zM162 173h1v1h-1zM163 174h1v2h-1zM164 176h1v1h-1zM165 177h1v1h-1zM166 178h1v2h-1zM167 180h1v1h-1zM168 181h1v2h-1zM169 183h1v1h-1zM170 184h2v1h-2zM172 185h1v1h-1zM173 186h1v1h-1zM174 187h2v1h-2zM176 188h1v1h-1zM177 189h1v1h-1zM178 190h2v1h-2zM180 191h1v1h-1zM181 192h2v1h-2zM183 193h2v1h-2zM185 194h5v1h-5zM190 195h2v1h-2zM192 196h1v1h-1zM193 197h2v1h-2zM195 198h2v1h-2zM197 199h1v1h-1zM198 200h2v1h-2zM200 201h1v1h-1zM201 202h1v1h-1zM202 203h1v1h-1zM203 204h1v2h-1zM204 206h1v1h-1zM205 207h1v1h-1zM206 208h1v1h-1zM207 209h1v2h-1zM208 211h1v1h-1zM209 212h1v1h-1zM210 213h1v1h-1zM211 214h1v1h-1zM212 215h1v1h-1zM213 216h1v1h-1zM214 217h1v1h-1zM215 218h1v2h-1zM216 220h1v1h-1zM217 221h1v1h-1zM218 222h1v1h-1zM219 223h1v2h-1zM220 225h1v1h-1zM221 226h1v1h-1zM222 227h1v2h-1zM223 229h1v1h-1zM224 230h1v2h-1zM225 232h1v1h-1zM226 233h1v1h-1zM227 234h1v2h-1zM228 236h1v1h-1zM229 237h1v1h-1zM230 238h1v1h-1zM231 239h1v1h-1zM232 240h1v1h-1zM233 241h3v1h-3zM236 242h4v1h-4zM240 243h4v1h-4zM244 242h3v1h-3zM247 241h2v1h-2zM249 240h1v1h-1zM250 239h2v1h-2zM252 238h1v1h-1zM253 237h2v1h-2zM255 236h2v1h-2zM257 235h1v1h-1zM258 234h1v1h-1zM259 232h1v2h-1zM260 231h1v1h-1zM261 230h2v1h-2zM263 229h2v1h-2zM265 228h6v1h-6zM271 229h2v1h-2zM273 230h2v1h-2zM275 231h2v1h-2zM277 232h2v1h-2zM279 231h2v1h-2zM281 230h3v1h-3zM284 231h4v1h-4zM288 232h2v1h-2zM290 233h1v1h-1zM291 234h1v1h-1zM292 235h1v1h-1zM293 236h1v1h-1zM294 237h1v1h-1zM295 238h1v1h-1zM296 239h1v1h-1zM297 240h1v1h-1zM298 241h1v1h-1zM299 242h1v1h-1zM300 243h1v1h-1zM301 244h2v1h-2zM303 245h2v1h-2zM305 246h1v1h-1zM306 247h1v1h-1zM307 248h1v1h-1zM308 249h1v1h-1zM309 250h1v1h-1zM310 251h1v1h-1zM311 252h1v2h-1zM312 254h1v1h-1zM313 255h1v1h-1zM314 256h1v1h-1zM315 257h1v2h-1zM316 259h1v1h-1zM317 260h1v1h-1zM318 261h1v1h-1zM319 262h1v2h-1zM320 264h1v1h-1zM321 265h1v1h-1zM322 266h1v2h-1zM323 268h1v1h-1zM324 269h1v2h-1zM325 271h1v1h-1zM326 272h1v1h-1zM327 273h1v2h-1zM328 275h1v1h-1zM329 276h1v1h-1zM330 277h1v1h-1zM331 278h1v2h-1zM332 280h1v1h-1zM333 281h1v1h-1zM334 282h1v1h-1zM335 283h1v2h-1zM336 285h1v1h-1zM337 286h1v1h-1zM338 287h2v1h-2zM340 288h1v1h-1zM341 289h2v1h-2zM343 290h2v1h-2zM345 291h2v1h-2zM347 292h2v1h-2zM349 293h2v1h-2zM351 294h2v1h-2zM353 295h1v1h-1zM354 296h1v1h-1zM355 297h1v1h-1zM356 298h1v1h-1zM357 299h1v1h-1zM358 300h2v1h-2zM360 301h1v1h-1zM361 302h1v1h-1zM362 303h1v1h-1zM363 304h1v2h-1zM364 306h1v1h-1zM365 307h3v1h-3zM368 308h8v1h-8zM376 307h6v1h-6zM382 306h2v1h-2zM384 305h1v1h-1zM385 304h1v1h-1zM386 303h1v1h-1zM387 302h1v1h-1zM388 301h1v1h-1zM389 300h1v1h-1zM390 299h2v1h-2zM392 298h1v1h-1zM393 297h3v1h-3zM396 298h4v1h-4zM400 299h3v1h-3zM403 300h2v1h-2zM405 301h3v1h-3zM408 302h2v1h-2zM410 303h1v1h-1zM411 304h1v1h-1zM412 305h1v1h-1zM413 306h1v1h-1zM414 307h1v1h-1zM415 308h1v2h-1zM416 310h1v1h-1zM417 311h2v1h-2zM419 312h2v1h-2zM421 313h1v1h-1zM422 314h1v1h-1zM423 315h1v2h-1zM424 317h1v1h-1zM425 318h1v1h-1zM426 319h1v2h-1zM427 321h1v2h-1zM428 323h1v2h-1zM429 325h1v1h-1zM430 326h1v1h-1zM431 327h1v2h-1zM432 329h1v1h-1zM433 330h1v1h-1zM434 331h2v1h-2zM436 332h1v1h-1zM437 333h2v1h-2zM439 334h2v1h-2zM441 335h1v1h-1zM442 336h2v1h-2zM444 337h1v1h-1zM445 338h1v1h-1zM446 339h2v1h-2zM448 340h1v1h-1zM449 341h3v1h-3zM452 342h3v1h-3zM455 343h2v1h-2zM457 344h3v1h-3zM460 345h4v1h-4zM464 344h2v1h-2zM466 343h1v1h-1zM467 342h1v1h-1zM468 341h1v1h-1zM469 340h1v1h-1zM470 339h1v1h-1zM471 338h1v1h-1zM472 337h1v1h-1zM473 336h1v1h-1zM474 335h2v1h-2zM476 334h1v1h-1zM477 333h1v1h-1zM478 332h1v1h-1zM479 331h1v1h-1zM480 330h1v1h-1zM481 329h1v1h-1zM482 327h1v2h-1zM483 325h1v2h-1zM484 323h1v2h-1zM485 321h1v2h-1zM486 319h1v2h-1zM487 317h1v2h-1zM488 315h1v2h-1zM489 313h1v2h-1zM490 311h1v2h-1zM491 309h1v2h-1zM492 307h1v2h-1zM493 306h1v1h-1zM494 304h1v2h-1zM495 303h1v1h-1zM496 301h1v2h-1zM497 300h1v1h-1zM498 298h1v2h-1zM499 296h1v2h-1zM500 294h1v2h-1zM501 293h1v1h-1zM502 291h1v2h-1zM503 290h1v1h-1zM504 288h1v2h-1zM505 287h1v1h-1zM506 286h1v1h-1zM507 284h1v2h-1zM508 283h1v1h-1zM509 282h1v1h-1zM510 280h1v2h-1zM511 279h1v1h-1zM512 277h1v2h-1zM513 276h1v1h-1zM514 275h1v1h-1zM515 274h1v1h-1zM516 273h1v1h-1zM517 272h2v1h-2zM519 271h2v1h-2zM521 270h2v1h-2zM523 269h2v1h-2zM525 268h1v1h-1zM526 267h2v1h-2zM528 266h1v1h-1zM529 265h1v1h-1zM530 264h1v1h-1zM531 263h1v1h-1zM532 262h1v1h-1zM533 261h1v1h-1zM534 260h1v1h-1zM535 258h1v2h-1zM536 257h1v1h-1zM537 256h1v1h-1zM538 255h2v1h-2zM540 254h1v1h-1zM541 253h2v1h-2zM543 252h2v1h-2zM545 251h5v1h-5zM550 252h1v1h-1zM551 253h1v1h-1zM552 254h1v1h-1zM553 255h1v1h-1zM554 256h2v1h-2zM556 257h1v1h-1zM557 258h1v1h-1zM558 259h2v1h-2zM560 260h1v1h-1zM561 261h1v1h-1zM562 262h1v1h-1zM563 263h1v1h-1zM564 264h1v1h-1zM565 265h1v1h-1zM566 266h2v1h-2zM568 267h1v1h-1zM569 268h2v1h-2zM571 269h2v1h-2zM573 270h2v1h-2zM575 271h2v1h-2zM577 272h1v1h-1zM578 273h2v1h-2zM580 274h1v1h-1zM581 275h1v1h-1zM582 276h1v1h-1zM583 277h1v2h-1zM584 279h1v1h-1zM585 280h1v1h-1zM586 281h2v1h-2zM588 282h1v1h-1zM589 283h1v1h-1zM590 284h2v1h-2zM592 285h1v1h-1zM593 286h1v1h-1zM594 287h1v1h-1zM595 288h1v1h-1zM596 289h1v1h-1zM597 290h1v1h-1zM598 291h2v1h-2zM600 292h1v1h-1zM601 293h1v1h-1zM602 294h1v1h-1zM603 295h1v1h-1zM604 296h1v1h-1zM605 297h7v1h-7zM612 298h4v1h-4zM616 299h4v1h-4zM620 300h8v1h-8zM628 301h4v1h-4zM632 302h4v1h-4zM636 301h4v1h-4zM640 300h8v1h-8zM648 299h4v1h-4zM652 298h12v1h-12zM664 299h3v1h-3zM667 298h2v1h-2zM669 297h2v1h-2zM671 296h2v1h-2zM673 295h1v1h-1zM674 294h2v1h-2zM676 293h1v1h-1zM677 292h1v1h-1zM678 291h1v1h-1zM679 290h1v1h-1zM680 289h1v1h-1zM681 288h1v1h-1zM682 287h1v1h-1zM683 285h1v2h-1zM684 284h1v1h-1zM685 283h1v1h-1zM686 282h1v1h-1zM687 280h1v2h-1zM688 279h1v1h-1zM689 278h1v1h-1zM690 277h1v1h-1zM691 276h1v1h-1zM692 275h1v1h-1zM693 274h1v1h-1zM694 273h1v1h-1zM695 271h1v2h-1zM696 270h1v1h-1zM697 269h2v1h-2zM699 268h2v1h-2zM701 267h2v1h-2zM703 266h2v1h-2zM705 265h7v1h-7zM712 266h4v1h-4zM716 265h3v1h-3zM719 264h2v1h-2zM721 263h7v1h-7zM728 262h2v1h-2zM730 261h2v1h-2zM732 260h1v1h-1zM733 259h2v1h-2zM735 258h2v1h-2zM737 257h1v1h-1zM738 256h2v1h-2zM740 255h1v1h-1zM741 254h1v1h-1zM742 253h1v1h-1zM743 252h1v1h-1zM744 251h1v1h-1zM745 250h1v1h-1zM746 249h2v1h-2zM748 248h1v1h-1zM749 247h2v1h-2zM751 246h2v1h-2zM753 245h3v1h-3zM756 244h2v1h-2zM758 243h2v1h-2zM760 242h1v1h-1zM761 241h1v1h-1zM762 240h1v1h-1zM763 239h1v1h-1zM764 238h1v1h-1zM765 237h1v1h-1zM766 236h2v1h-2zM768 235h1v1h-1zM769 234h3v1h-3zM772 233h4v1h-4zM776 232h4v1h-4zM780 231h8v1h-8zM788 232h3v1h-3zM791 233h2v1h-2zM793 234h2v1h-2zM795 235h2v1h-2zM797 236h1v1h-1zM798 237h1v1h-1zM799 238h1v1h-1zM800 239h1v1h-1zM801 240h1v1h-1zM802 241h1v1h-1zM803 242h1v1h-1zM804 243h1v1h-1zM805 244h1v1h-1zM806 245h1v1h-1zM807 246h1v2h-1zM808 248h1v1h-1zM809 249h1v1h-1zM810 250h2v1h-2zM812 251h1v1h-1zM813 252h1v1h-1zM814 253h2v1h-2zM816 254h1v1h-1zM817 255h1v1h-1zM818 256h1v1h-1zM819 257h1v1h-1zM820 258h1v1h-1zM821 259h1v1h-1zM822 260h1v1h-1zM823 261h1v1h-1zM824 262h1v1h-1zM825 263h1v1h-1zM826 264h1v1h-1zM827 265h1v1h-1zM828 266h1v1h-1zM829 267h1v1h-1zM830 268h2v1h-2zM832 269h1v1h-1zM833 270h1v1h-1zM834 271h1v1h-1zM835 272h1v1h-1zM836 273h1v1h-1zM837 274h1v1h-1zM838 275h1v1h-1zM839 276h1v1h-1zM840 277h1v1h-1zM841 278h1v1h-1zM842 279h1v1h-1zM843 280h1v2h-1zM844 282h1v1h-1zM845 283h1v1h-1zM846 284h1v1h-1zM847 285h1v1h-1zM848 286h1v1h-1zM849 287h2v1h-2zM851 288h2v1h-2zM853 289h2v1h-2zM855 290h2v1h-2zM857 291h2v1h-2zM859 292h2v1h-2zM861 293h2v1h-2zM863 294h2v1h-2zM865 295h1v1h-1zM866 296h2v1h-2zM868 297h1v1h-1zM869 298h1v1h-1zM870 299h1v1h-1zM871 300h1v2h-1zM872 302h1v1h-1zM873 303h1v1h-1zM874 304h1v1h-1zM875 305h1v1h-1zM876 306h1v1h-1zM877 307h1v1h-1zM878 308h1v1h-1zM879 309h1v1h-1zM880 310h1v1h-1zM881 311h1v1h-1zM882 312h1v1h-1zM883 313h1v1h-1zM884 314h1v1h-1zM885 315h1v1h-1zM886 316h1v1h-1zM887 317h1v2h-1zM888 319h1v1h-1zM889 320h1v1h-1zM890 321h1v1h-1zM891 322h1v1h-1zM892 323h1v1h-1zM893 324h1v1h-1zM894 325h1v2h-1zM895 327h1v1h-1zM896 328h1v2h-1zM897 330h1v1h-1zM898 331h1v2h-1zM899 333h1v1h-1zM900 334h1v2h-1zM901 336h1v2h-1zM902 338h1v2h-1zM903 340h1v2h-1zM904 342h1v2h-1zM905 344h1v2h-1zM906 346h1v2h-1zM907 348h1v3h-1zM908 351h1v2h-1zM909 353h1v3h-1zM910 356h1v2h-1zM911 358h1v3h-1zM912 361h1v2h-1zM913 363h1v3h-1zM914 366h1v2h-1zM915 368h1v3h-1zM916 371h1v2h-1zM917 373h1v3h-1zM918 376h1v2h-1zM919 378h1v3h-1zM920 381h1v2h-1zM921 383h1v2h-1zM922 385h1v1h-1zM923 386h1v2h-1zM924 388h1v1h-1zM925 389h1v1h-1zM926 390h1v1h-1zM927 391h1v2h-1zM928 393h1v1h-1zM929 394h1v1h-1zM930 395h1v1h-1zM931 396h1v1h-1zM932 397h1v1h-1zM933 398h1v1h-1zM934 399h2v1h-2zM936 400h1v1h-1zM937 401h2v1h-2zM939 402h2v1h-2zM941 403h2v1h-2zM943 402h2v1h-2zM945 401h1v1h-1zM946 400h1v1h-1zM947 399h1v1h-1zM948 398h1v1h-1zM949 397h1v1h-1zM950 395h1v2h-1zM951 393h1v2h-1zM952 391h1v2h-1zM953 389h1v2h-1zM954 386h1v3h-1zM955 384h1v2h-1zM956 381h1v3h-1zM957 378h1v3h-1zM958 375h1v3h-1zM959 371h1v4h-1zM960 368h1v3h-1zM961 365h1v3h-1zM962 362h1v3h-1zM963 359h1v3h-1zM964 356h1v3h-1zM965 353h1v3h-1zM966 349h1v4h-1zM967 345h1v4h-1zM968 341h1v4h-1zM969 337h1v4h-1zM970 332h1v5h-1zM971 327h1v5h-1zM972 322h1v5h-1zM973 317h1v5h-1zM974 312h1v5h-1zM975 307h1v5h-1zM976 302h1v5h-1zM977 297h1v5h-1zM978 291h1v6h-1zM979 286h1v5h-1zM980 280h1v6h-1zM981 275h1v5h-1zM982 270h1v5h-1zM983 266h1v4h-1zM984 261h1v5h-1zM985 256h1v5h-1zM986 252h1v4h-1zM987 248h1v4h-1zM988 244h1v4h-1zM989 241h1v3h-1zM990 239h1v2h-1zM991 237h1v2h-1zM992 235h1v2h-1zM993 233h1v2h-1zM994 231h1v2h-1zM995 229h1v2h-1zM996 227h1v2h-1zM997 226h1v1h-1zM998 225h1v1h-1zM999 224h1v1h-1zM1000 223h1v1h-1zM1001 222h1v1h-1zM1002 220h1v2h-1zM1003 219h1v1h-1zM1004 217h1v2h-1zM1005 216h2v1h-2zM1007 217h2v1h-2zM1009 218h1v2h-1zM1010 220h1v3h-1zM1011 223h1v3h-1zM1012 226h1v3h-1zM1013 229h1v4h-1zM1014 233h1v4h-1zM1015 237h1v5h-1zM1016 242h1v4h-1zM1017 246h1v5h-1zM1018 251h1v4h-1zM1019 255h1v5h-1zM1020 260h1v4h-1zM1021 264h1v5h-1zM1022 269h1v5h-1zM1023 274h1v6h-1zM1024 280h1v5h-1zM1025 285h1v5h-1zM1026 290h1v5h-1zM1027 295h1v6h-1zM1028 301h1v5h-1zM1029 306h1v5h-1zM1030 311h1v5h-1zM1031 316h1v6h-1zM1032 322h1v5h-1zM1033 327h1v5h-1zM1034 332h1v6h-1zM1035 338h1v6h-1zM1036 344h1v6h-1zM1037 350h1v4h-1zM1038 354h1v3h-1zM1039 357h1v3h-1zM1040 360h1v3h-1zM1041 363h1v3h-1zM1042 366h1v2h-1zM1043 368h1v2h-1zM1044 370h1v2h-1zM1045 372h1v2h-1zM1046 373h1v1h-1zM1047 372h2v1h-2zM1049 371h2v1h-2zM1051 372h2v1h-2zM1053 373h2v1h-2zM1055 374h2v1h-2zM1057 375h1v2h-1zM1058 377h1v2h-1zM1059 379h1v2h-1zM1060 381h1v2h-1zM1061 383h1v2h-1zM1062 385h1v1h-1zM1063 386h1v1h-1zM1064 387h1v1h-1zM1065 388h3v1h-3zM1068 389h2v1h-2zM1070 388h1v1h-1zM1071 387h1v1h-1zM1072 386h1v1h-1zM1073 385h1v1h-1zM1074 384h1v1h-1zM1075 382h1v2h-1zM1076 381h1v1h-1zM1077 379h1v2h-1zM1078 377h1v2h-1zM1079 375h1v2h-1zM1080 373h1v2h-1zM1081 371h1v2h-1zM1082 370h1v1h-1zM1083 369h1v1h-1zM1084 368h1v1h-1zM1085 367h1v1h-1zM1086 366h1v1h-1zM1087 364h1v2h-1zM1088 363h1v1h-1zM1089 362h1v1h-1zM1090 361h1v1h-1zM1091 359h1v2h-1zM1092 358h1v1h-1zM1093 357h1v1h-1zM1094 358h1v1h-1zM1095 359h1v1h-1zM1096 360h1v1h-1zM1097 361h1v1h-1zM1098 362h1v2h-1zM1099 364h1v1h-1zM1100 365h1v2h-1zM1101 367h1v1h-1zM1102 368h1v2h-1zM1103 370h1v1h-1zM1104 371h1v2h-1zM1105 373h1v1h-1zM1106 374h1v1h-1zM1107 375h1v1h-1zM1108 376h1v1h-1zM1109 377h1v1h-1zM1110 378h1v2h-1zM1111 380h1v2h-1zM1112 382h1v2h-1zM1113 384h2v1h-2zM1115 385h2v1h-2zM1117 386h5v1h-5zM1122 385h2v1h-2zM1124 384h1v1h-1zM1125 383h2v1h-2zM1127 382h2v1h-2zM1129 381h3v1h-3zM1132 380h2v1h-2zM1134 381h2v1h-2zM1136 382h1v1h-1zM1137 383h2v1h-2zM1139 384h2v1h-2zM1141 385h1v1h-1zM1142 386h1v1h-1zM1143 387h1v2h-1zM1144 389h1v1h-1zM1145 390h1v1h-1zM1146 391h1v1h-1zM1147 392h1v2h-1zM1148 394h1v1h-1zM1149 395h1v1h-1zM1150 396h1v1h-1zM1151 397h1v1h-1zM1152 398h1v1h-1zM1153 399h2v1h-2zM1155 400h2v1h-2zM1157 401h3v1h-3zM1160 402h2v1h-2zM1162 401h2v1h-2zM1164 400h1v1h-1zM1165 399h1v1h-1zM1166 398h1v1h-1zM1167 396h1v2h-1zM1168 395h1v1h-1zM1169 394h2v1h-2zM1171 393h2v1h-2zM1173 392h3v1h-3zM1176 393h3v1h-3zM1179 394h2v1h-2zM1181 395h2v1h-2zM1183 396h2v1h-2zM1185 397h3v1h-3zM1188 396h4v1h-4zM1192 395h4v1h-4zM1196 394h3v1h-3zM1199 393h2v1h-2zM1201 392h3v1h-3zM1204 391h4v1h-4zM1208 392h2v1h-2z" fill="#ff0000"/>
<path d="M5 219h15v1h-15zM20 218h10v1h-10zM30 217h2v1h-2zM32 216h1v1h-1zM33 215h2v1h-2zM35 214h2v1h-2zM37 213h1v1h-1zM38 212h2v1h-2zM40 211h1v1h-1zM41 210h2v1h-2zM43 209h2v1h-2zM45 208h2v1h-2zM47 207h2v1h-2zM49 206h2v1h-2zM51 205h2v1h-2zM53 204h26v1h-26zM79 203h2v1h-2zM81 202h1v1h-1zM82 201h1v1h-1zM83 200h1v1h-1zM84 199h1v1h-1zM85 198h1v1h-1zM86 197h1v1h-1zM87 196h1v1h-1zM88 195h1v1h-1zM89 194h1v1h-1zM90 193h1v1h-1zM91 191h1v2h-1zM92 190h1v1h-1zM93 189h1v1h-1zM94 188h1v1h-1zM95 187h1v1h-1zM96 186h1v1h-1zM97 185h1v1h-1zM98 184h1v1h-1zM99 183h1v1h-1zM100 182h1v1h-1zM101 181h1v1h-1zM102 180h1v1h-1zM103 179h1v1h-1zM104 178h1v1h-1zM105 177h2v1h-2zM107 176h2v1h-2zM109 175h2v1h-2zM111 174h2v1h-2zM113 173h1v1h-1zM114 172h2v1h-2zM116 171h1v1h-1zM117 170h2v1h-2zM119 169h2v1h-2zM121 168h2v1h-2zM123 167h2v1h-2zM125 166h2v1h-2zM127 165h2v1h-2zM129 164h2v1h-2zM131 163h2v1h-2zM133 162h3v1h-3zM136 161h8v1h-8zM144 162h4v1h-4zM148 161h4v1h-4zM152 162h4v1h-4zM156 163h3v1h-3zM159 164h2v1h-2zM161 165h6v1h-6zM167 166h2v1h-2zM169 167h2v1h-2zM171 168h2v1h-2zM173 169h3v1h-3zM176 170h8v1h-8zM184 169h4v1h-4zM188 170h4v1h-4zM192 171h4v1h-4zM196 172h3v1h-3zM199 173h2v1h-2zM201 174h1v1h-1zM202 175h1v1h-1zM203 176h1v1h-1zM204 177h1v1h-1zM205 178h1v1h-1zM206 179h1v1h-1zM207 180h1v1h-1zM208 181h1v1h-1zM209 182h1v1h-1zM210 183h1v1h-1zM211 184h1v2h-1zM212 186h1v1h-1zM213 187h1v1h-1zM214 188h1v1h-1zM215 189h1v1h-1zM216 190h1v1h-1zM217 191h1v1h-1zM218 192h1v1h-1zM219 193h1v2h-1zM220 195h1v1h-1zM221 196h1v1h-1zM222 197h1v2h-1zM223 199h1v1h-1zM224 200h1v2h-1zM225 202h1v1h-1zM226 203h1v1h-1zM227 204h1v1h-1zM228 205h1v1h-1zM229 206h1v1h-1zM230 207h1v1h-1zM231 208h1v2h-1zM232 210h1v1h-1zM233 211h2v1h-2zM235 212h2v1h-2zM237 213h2v1h-2zM239 214h2v1h-2zM241 215h3v1h-3zM244 216h4v1h-4zM248 217h16v1h-16zM264 218h3v1h-3zM267 219h2v1h-2zM269 220h2v1h-2zM271 221h2v1h-2zM273 222h1v1h-1zM274 223h2v1h-2zM276 224h1v1h-1zM277 225h1v1h-1zM278 226h1v1h-1zM279 227h1v1h-1zM280 228h1v1h-1zM281 229h1v1h-1zM282 230h2v1h-2zM284 231h1v1h-1zM285 232h2v1h-2zM287 233h2v1h-2zM289 234h2v1h-2zM291 235h2v1h-2zM293 236h1v1h-1zM294 237h2v1h-2zM296 238h1v1h-1zM297 239h3v1h-3zM300 240h4v1h-4zM304 241h3v1h-3zM307 242h2v1h-2zM309 243h3v1h-3zM312 244h4v1h-4zM316 245h3v1h-3zM319 246h2v1h-2zM321 247h1v1h-1zM322 248h2v1h-2zM324 249h1v1h-1zM325 250h2v1h-2zM327 251h2v1h-2zM329 252h1v1h-1zM330 253h1v1h-1zM331 254h1v1h-1zM332 255h1v1h-1zM333 256h1v1h-1zM334 257h2v1h-2zM336 258h1v1h-1zM337 259h2v1h-2zM339 260h2v1h-2zM341 261h7v1h-7zM348 262h3v1h-3zM351 263h2v1h-2zM353 264h1v1h-1zM354 265h2v1h-2zM356 266h1v1h-1zM357 267h2v1h-2zM359 268h2v1h-2zM361 269h1v1h-1zM362 270h1v1h-1zM363 271h1v2h-1zM364 273h1v1h-1zM365 274h2v1h-2zM367 275h2v1h-2zM369 276h1v1h-1zM370 277h2v1h-2zM372 278h1v1h-1zM373 279h2v1h-2zM375 280h2v1h-2zM377 281h1v1h-1zM378 282h1v1h-1zM379 283h1v1h-1zM380 284h1v1h-1zM381 285h2v1h-2zM383 286h2v1h-2zM385 287h2v1h-2zM387 288h2v1h-2zM389 289h3v1h-3zM392 290h3v1h-3zM395 291h2v1h-2zM397 292h3v1h-3zM400 293h3v1h-3zM403 294h2v1h-2zM405 295h2v1h-2zM407 296h2v1h-2zM409 297h1v1h-1zM410 298h2v1h-2zM412 299h1v1h-1zM413 300h2v1h-2zM415 301h2v1h-2zM417 302h1v1h-1zM418 303h1v1h-1zM419 304h1v1h-1zM420 305h1v1h-1zM421 306h1v1h-1zM422 307h1v1h-1zM423 308h1v1h-1zM424 309h1v1h-1zM425 310h1v1h-1zM426 311h1v1h-1zM427 312h1v1h-1zM428 313h1v1h-1zM429 314h2v1h-2zM431 315h2v1h-2zM433 316h1v1h-1zM434 317h2v1h-2zM436 318h1v1h-1zM437 319h3v1h-3zM440 320h20v1h-20zM460 321h4v1h-4zM464 322h8v1h-8zM472 321h4v1h-4zM476 322h8v1h-8zM484 321h4v1h-4zM488 320h3v1h-3zM491 319h2v1h-2zM493 318h3v1h-3zM496 317h2v1h-2zM498 316h2v1h-2zM500 315h1v1h-1zM501 314h3v1h-3zM504 313h3v1h-3zM507 312h2v1h-2zM509 311h3v1h-3zM512 310h4v1h-4zM516 309h4v1h-4zM520 308h3v1h-3zM523 307h2v1h-2zM525 306h2v1h-2zM527 305h2v1h-2zM529 304h1v1h-1zM530 303h2v1h-2zM532 302h1v1h-1zM533 301h1v1h-1zM534 300h1v1h-1zM535 299h1v1h-1zM536 298h1v1h-1zM537 297h1v1h-1zM538 296h1v1h-1zM539 295h1v1h-1zM540 294h1v1h-1zM541 293h1v1h-1zM542 292h1v1h-1zM543 290h1v2h-1zM544 289h1v1h-1zM545 288h1v1h-1zM546 287h1v1h-1zM547 286h1v1h-1zM548 285h1v1h-1zM549 284h1v1h-1zM550 283h2v1h-2zM552 282h1v1h-1zM553 281h2v1h-2zM555 280h2v1h-2zM557 279h3v1h-3zM560 278h4v1h-4zM564 277h4v1h-4zM568 276h4v1h-4zM572 275h4v1h-4zM576 274h19v1h-19zM595 273h2v1h-2zM597 272h11v1h-11zM608 273h3v1h-3zM611 274h2v1h-2zM613 275h1v1h-1zM614 276h2v1h-2zM616 277h1v1h-1zM617 278h2v1h-2zM619 279h2v1h-2zM621 280h2v1h-2zM623 281h2v1h-2zM625 282h1v1h-1zM626 283h2v1h-2zM628 284h1v1h-1zM629 285h3v1h-3zM632 286h4v1h-4zM636 287h4v1h-4zM640 288h4v1h-4zM644 289h8v1h-8zM652 290h4v1h-4zM656 291h3v1h-3zM659 292h2v1h-2zM661 293h2v1h-2zM663 294h2v1h-2zM665 295h2v1h-2zM667 296h2v1h-2zM669 297h3v1h-3zM672 296h8v1h-8zM680 295h3v1h-3zM683 294h2v1h-2zM685 293h2v1h-2zM687 292h2v1h-2zM689 291h2v1h-2zM691 290h2v1h-2zM693 289h2v1h-2zM695 288h2v1h-2zM697 287h2v1h-2zM699 286h2v1h-2zM701 285h2v1h-2zM703 284h2v1h-2zM705 283h3v1h-3zM708 282h12v1h-12zM720 281h8v1h-8zM728 280h3v1h-3zM731 279h2v1h-2zM733 278h1v1h-1zM734 277h2v1h-2zM736 276h1v1h-1zM737 275h1v1h-1zM738 274h2v1h-2zM740 273h1v1h-1zM741 272h1v1h-1zM742 271h1v1h-1zM743 270h1v1h-1zM744 269h1v1h-1zM745 268h1v1h-1zM746 267h1v1h-1zM747 266h1v1h-1zM748 265h1v1h-1zM749 264h1v1h-1zM750 263h1v1h-1zM751 262h1v1h-1zM752 261h1v1h-1zM753 260h2v1h-2zM755 259h2v1h-2zM757 258h1v1h-1zM758 257h2v1h-2zM760 256h1v1h-1zM761 255h2v1h-2zM763 254h2v1h-2zM765 253h3v1h-3zM768 252h4v1h-4zM772 251h8v1h-8zM780 250h4v1h-4zM784 249h3v1h-3zM787 248h2v1h-2zM789 247h7v1h-7zM796 246h4v1h-4zM800 245h4v1h-4zM804 246h4v1h-4zM808 247h8v1h-8zM816 248h4v1h-4zM820 249h3v1h-3zM823 250h2v1h-2zM825 251h3v1h-3zM828 252h7v1h-7zM835 253h2v1h-2zM837 254h2v1h-2zM839 255h2v1h-2zM841 256h3v1h-3zM844 257h4v1h-4zM848 258h3v1h-3zM851 259h2v1h-2zM853 260h3v1h-3zM856 261h2v1h-2zM858 262h2v1h-2zM860 263h1v1h-1zM861 264h1v1h-1zM862 265h1v1h-1zM863 266h1v1h-1zM864 267h1v1h-1zM865 268h1v1h-1zM866 269h2v1h-2zM868 270h1v1h-1zM869 271h1v1h-1zM870 272h1v1h-1zM871 273h1v1h-1zM872 274h1v1h-1zM873 275h1v1h-1zM874 276h1v1h-1zM875 277h1v1h-1zM876 278h1v1h-1zM877 279h1v1h-1zM878 280h1v1h-1zM879 281h1v1h-1zM880 282h1v1h-1zM881 283h1v1h-1zM882 284h1v1h-1zM883 285h1v2h-1zM884 287h1v1h-1zM885 288h1v1h-1zM886 289h1v1h-1zM887 290h1v1h-1zM888 291h1v1h-1zM889 292h1v1h-1zM890 293h1v1h-1zM891 294h1v2h-1zM892 296h1v1h-1zM893 297h1v1h-1zM894 298h1v1h-1zM895 299h1v1h-1zM896 300h1v1h-1zM897 301h1v1h-1zM898 302h1v1h-1zM899 303h1v2h-1zM900 305h1v1h-1zM901 306h1v1h-1zM902 307h1v1h-1zM903 308h1v2h-1zM904 310h1v1h-1zM905 311h1v1h-1zM906 312h1v2h-1zM907 314h1v1h-1zM908 315h1v2h-1zM909 317h1v1h-1zM910 318h1v1h-1zM911 319h1v2h-1zM912 321h1v1h-1zM913 322h1v1h-1zM914 323h1v2h-1zM915 325h1v2h-1zM916 327h1v2h-1zM917 329h1v1h-1zM918 330h1v2h-1zM919 332h1v1h-1zM920 333h1v2h-1zM921 335h1v1h-1zM922 336h1v1h-1zM923 337h1v1h-1zM924 338h1v1h-1zM925 339h1v1h-1zM926 340h1v1h-1zM927 341h1v1h-1zM928 342h1v1h-1zM929 343h1v1h-1zM930 344h1v1h-1zM931 345h1v1h-1zM932 346h1v1h-1zM933 347h1v1h-1zM934 348h1v1h-1zM935 349h1v2h-1zM936 351h1v1h-1zM937 352h1v1h-1zM938 353h1v1h-1zM939 354h1v1h-1zM940 355h1v1h-1zM941 356h3v1h-3zM944 357h11v1h-11zM955 356h2v1h-2zM957 355h1v1h-1zM958 354h2v1h-2zM960 353h1v1h-1zM961 352h1v1h-1zM962 351h2v1h-2zM964 350h1v1h-1zM965 349h2v1h-2zM967 348h2v1h-2zM969 347h1v1h-1zM970 346h1v1h-1zM971 345h1v1h-1zM972 344h1v1h-1zM973 343h1v1h-1zM974 342h1v1h-1zM975 340h1v2h-1zM976 339h1v1h-1zM977 338h1v1h-1zM978 336h1v2h-1zM979 335h1v1h-1zM980 333h1v2h-1zM981 332h1v1h-1zM982 330h1v2h-1zM983 329h1v1h-1zM984 327h1v2h-1zM985 326h1v1h-1zM986 325h1v1h-1zM987 323h1v2h-1zM988 322h1v1h-1zM989 321h2v1h-2zM991 320h2v1h-2zM993 319h2v1h-2zM995 318h2v1h-2zM997 317h2v1h-2zM999 316h2v1h-2zM1001 315h1v1h-1zM1002 314h1v1h-1zM1003 313h1v1h-1zM1004 312h1v1h-1zM1005 311h3v1h-3zM1008 310h4v1h-4zM1012 311h2v1h-2zM1014 312h2v1h-2zM1016 313h1v1h-1zM1017 314h1v1h-1zM1018 315h2v1h-2zM1020 316h1v1h-1zM1021 317h1v1h-1zM1022 318h2v1h-2zM1024 319h1v1h-1zM1025 320h3v1h-3zM1028 321h4v1h-4zM1032 322h4v1h-4zM1036 321h2v1h-2zM1038 320h1v1h-1zM1039 319h1v1h-1zM1040 318h1v1h-1zM1041 317h1v1h-1zM1042 316h1v1h-1zM1043 315h1v1h-1zM1044 314h1v1h-1zM1045 313h1v1h-1zM1046 312h1v1h-1zM1047 311h1v1h-1zM1048 310h1v1h-1zM1049 309h1v1h-1zM1050 308h2v1h-2zM1052 307h1v1h-1zM1053 306h1v1h-1zM1054 305h2v1h-2zM1056 304h1v1h-1zM1057 303h3v1h-3zM1060 302h3v1h-3zM1063 303h2v1h-2zM1065 304h1v1h-1zM1066 305h2v1h-2zM1068 306h1v1h-1zM1069 307h1v1h-1zM1070 308h1v1h-1zM1071 309h1v1h-1zM1072 310h1v1h-1zM1073 311h1v1h-1zM1074 312h1v2h-1zM1075 314h1v1h-1zM1076 315h1v2h-1zM1077 317h1v1h-1zM1078 318h1v2h-1zM1079 320h1v1h-1zM1080 321h1v2h-1zM1081 323h1v1h-1zM1082 324h1v1h-1zM1083 325h1v2h-1zM1084 327h1v1h-1zM1085 328h1v1h-1zM1086 329h1v1h-1zM1087 330h1v1h-1zM1088 331h1v1h-1zM1089 332h1v1h-1zM1090 333h1v2h-1zM1091 335h1v2h-1zM1092 337h1v2h-1zM1093 339h1v1h-1zM1094 340h1v2h-1zM1095 342h1v2h-1zM1096 344h1v2h-1zM1097 346h1v2h-1zM1098 348h1v2h-1zM1099 350h1v2h-1zM1100 352h1v2h-1zM1101 354h1v2h-1zM1102 356h1v2h-1zM1103 358h1v2h-1zM1104 360h1v2h-1zM1105 362h1v1h-1zM1106 363h1v2h-1zM1107 365h1v2h-1zM1108 367h1v2h-1zM1109 369h1v1h-1zM1110 370h1v1h-1zM1111 371h1v1h-1zM1112 372h1v1h-1zM1113 373h1v1h-1zM1114 374h1v1h-1zM1115 375h1v1h-1zM1116 376h1v1h-1zM1117 377h1v1h-1zM1118 378h2v1h-2zM1120 379h1v1h-1zM1121 380h1v1h-1zM1122 381h1v1h-1zM1123 382h1v2h-1zM1124 384h1v1h-1zM1125 385h2v1h-2zM1127 386h2v1h-2zM1129 387h6v1h-6zM1135 386h2v1h-2zM1137 385h2v1h-2zM1139 384h2v1h-2zM1141 383h2v1h-2zM1143 382h2v1h-2zM1145 381h2v1h-2zM1147 380h2v1h-2zM1149 379h7v1h-7zM1156 378h3v1h-3zM1159 379h2v1h-2zM1161 380h3v1h-3zM1164 381h2v1h-2zM1166 382h2v1h-2zM1168 383h1v1h-1zM1169 384h3v1h-3zM1172 385h2v1h-2zM1174 386h2v1h-2zM1176 387h1v1h-1zM1177 388h1v1h-1zM1178 389h2v1h-2zM1180 390h1v1h-1zM1181 391h3v1h-3zM1184 392h3v1h-3zM1187 391h2v1h-2zM1189 390h15v1h-15zM1204 391h4v1h-4zM1208 392h2v1h-2z" fill="#0000cd"/>
<rect x="5" y="155" width="1515" height="2" fill="#ff0000"/>
<rect x="5" y="211" width="1515" height="2" fill="#ff0000"/>
<rect x="5" y="265" width="1515" height="2" fill="#ff0000"/>
<rect x="5" y="320" width="1515" height="2" fill="#ff0000"/>
<rect x="5" y="385" width="1515" height="2" fill="#00ff00"/>
<rect x="5" y="446" width="1515" height="2" fill="#0000ff"/>
<rect x="5" y="522" width="1515" height="2" fill="#0000ff"/>
<rect x="1521" y="33" width="2" height="1" fill="#000"/>
<text x="1526.5" y="37" font-size="10" fill="#000" stroke="#000" stroke-width="0.2" textLength="32" lengthAdjust="spacingAndGlyphs" >1.15280</text>
<rect x="1521" y="66" width="2" height="1" fill="#000"/>
<text x="1526.5" y="70" font-size="10" fill="#000" stroke="#000" stroke-width="0.2" textLength="32" lengthAdjust="spacingAndGlyphs" >1.14680</text>
<rect x="1521" y="99" width="2" height="1" fill="#000"/>
<text x="1526.5" y="103" font-size="10" fill="#000" stroke="#000" stroke-width="0.2" textLength="32" lengthAdjust="spacingAndGlyphs" >1.14065</text>
<rect x="1521" y="132" width="2" height="1" fill="#000"/>
<text x="1526.5" y="136" font-size="10" fill="#000" stroke="#000" stroke-width="0.2" textLength="32" lengthAdjust="spacingAndGlyphs" >1.13465</text>
<rect x="1521" y="165" width="2" height="1" fill="#000"/>
<text x="1526.5" y="169" font-size="10" fill="#000" stroke="#000" stroke-width="0.2" textLength="32" lengthAdjust="spacingAndGlyphs" >1.12865</text>
<rect x="1521" y="198" width="2" height="1" fill="#000"/>
<text x="1526.5" y="202" font-size="10" fill="#000" stroke="#000" stroke-width="0.2" textLength="32" lengthAdjust="spacingAndGlyphs" >1.12250</text>
<rect x="1521" y="231" width="2" height="1" fill="#000"/>
<text x="1526.5" y="235" font-size="10" fill="#000" stroke="#000" stroke-width="0.2" textLength="32" lengthAdjust="spacingAndGlyphs" >1.11650</text>
<rect x="1521" y="297" width="2" height="1" fill="#000"/>
<text x="1526.5" y="301" font-size="10" fill="#000" stroke="#000" stroke-width="0.2" textLength="32" lengthAdjust="spacingAndGlyphs" >1.10435</text>
<rect x="1521" y="330" width="2" height="1" fill="#000"/>
<text x="1526.5" y="334" font-size="10" fill="#000" stroke="#000" stroke-width="0.2" textLength="32" lengthAdjust="spacingAndGlyphs" >1.09835</text>
<rect x="1521" y="363" width="2" height="1" fill="#000"/>
<text x="1526.5" y="367" font-size="10" fill="#000" stroke="#000" stroke-width="0.2" textLength="32" lengthAdjust="spacingAndGlyphs" >1.09235</text>
<rect x="1521" y="396" width="2" height="1" fill="#000"/>
<text x="1526.5" y="400" font-size="10" fill="#000" stroke="#000" stroke-width="0.2" textLength="32" lengthAdjust="spacingAndGlyphs" >1.08620</text>
<rect x="1521" y="429" width="2" height="1" fill="#000"/>
<text x="1526.5" y="433" font-size="10" fill="#000" stroke="#000" stroke-width="0.2" textLength="32" lengthAdjust="spacingAndGlyphs" >1.08020</text>
<rect x="1521" y="462" width="2" height="1" fill="#000"/>
<text x="1526.5" y="466" font-size="10" fill="#000" stroke="#000" stroke-width="0.2" textLength="32" lengthAdjust="spacingAndGlyphs" >1.07420</text>
<rect x="1521" y="495" width="2" height="1" fill="#000"/>
<text x="1526.5" y="499" font-size="10" fill="#000" stroke="#000" stroke-width="0.2" textLength="32" lengthAdjust="spacingAndGlyphs" >1.06805</text>
<rect x="1521" y="528" width="2" height="1" fill="#000"/>
<text x="1526.5" y="532" font-size="10" fill="#000" stroke="#000" stroke-width="0.2" textLength="32" lengthAdjust="spacingAndGlyphs" >1.06205</text>
<rect x="1522" y="150" width="41" height="11" fill="#ff0000"/>
<text x="1526.5" y="159" font-size="10" fill="#fff" stroke="#fff" stroke-width="0.2" textLength="32" lengthAdjust="spacingAndGlyphs" >1.13034</text>
<rect x="1522" y="206" width="41" height="11" fill="#ff0000"/>
<text x="1526.5" y="215" font-size="10" fill="#fff" stroke="#fff" stroke-width="0.2" textLength="32" lengthAdjust="spacingAndGlyphs" >1.12004</text>
<rect x="1522" y="260" width="41" height="11" fill="#ff0000"/>
<text x="1526.5" y="269" font-size="10" fill="#fff" stroke="#fff" stroke-width="0.2" textLength="32" lengthAdjust="spacingAndGlyphs" >1.11009</text>
<rect x="1522" y="315" width="41" height="11" fill="#ff0000"/>
<text x="1526.5" y="324" font-size="10" fill="#fff" stroke="#fff" stroke-width="0.2" textLength="32" lengthAdjust="spacingAndGlyphs" >1.10008</text>
<rect x="1522" y="380" width="41" height="11" fill="#00ff00"/>
<text x="1526.5" y="389" font-size="10" fill="#fff" stroke="#fff" stroke-width="0.2" textLength="32" lengthAdjust="spacingAndGlyphs" >1.08800</text>
<rect x="1522" y="441" width="41" height="11" fill="#0000ff"/>
<text x="1526.5" y="450" font-size="10" fill="#fff" stroke="#fff" stroke-width="0.2" textLength="32" lengthAdjust="spacingAndGlyphs" >1.07697</text>
<rect x="1522" y="517" width="41" height="11" fill="#0000ff"/>
<text x="1526.5" y="526" font-size="10" fill="#fff" stroke="#fff" stroke-width="0.2" textLength="32" lengthAdjust="spacingAndGlyphs" >1.06306</text>
<rect x="1522" y="413" width="41" height="11" fill="#000"/>
<text x="1526.5" y="422" font-size="10" fill="#fff" stroke="#fff" stroke-width="0.2" textLength="32" lengthAdjust="spacingAndGlyphs" >1.08227</text>
<path d="M8 33 L15 33 L11.5 37 Z" fill="#000" shape-rendering="geometricPrecision"/>
<text x="20.3" y="38" font-size="10" fill="#000" stroke="#000" stroke-width="0.2" textLength="63.5" lengthAdjust="spacingAndGlyphs" >EURUSD,Daily</text>
<text x="90.7" y="38" font-size="10" fill="#000" stroke="#000" stroke-width="0.2" textLength="140.2" lengthAdjust="spacingAndGlyphs" >1.08354 1.08383 1.08108 1.08227</text>
<path d="M1210.5 27 L1220.5 27 L1215.5 32.5 Z" fill="#c0c0c0" shape-rendering="geometricPrecision"/>
<path d="M6 561h3v1h-3zM12 561h3v1h-3zM18 561h3v1h-3zM24 561h3v1h-3zM30 561h3v1h-3zM36 561h3v1h-3zM42 561h3v1h-3zM48 561h3v1h-3zM54 561h3v1h-3zM60 561h3v1h-3zM66 561h3v1h-3zM72 561h3v1h-3zM78 561h3v1h-3zM84 561h3v1h-3zM90 561h3v1h-3zM96 561h3v1h-3zM102 561h3v1h-3zM108 561h3v1h-3zM114 561h3v1h-3zM120 561h3v1h-3zM126 561h3v1h-3zM132 561h3v1h-3zM138 561h3v1h-3zM144 561h3v1h-3zM150 561h3v1h-3zM156 561h3v1h-3zM162 561h3v1h-3zM168 561h3v1h-3zM174 561h3v1h-3zM180 561h3v1h-3zM186 561h3v1h-3zM192 561h3v1h-3zM198 561h3v1h-3zM204 561h3v1h-3zM210 561h3v1h-3zM216 561h3v1h-3zM222 561h3v1h-3zM228 561h3v1h-3zM234 561h3v1h-3zM240 561h3v1h-3zM246 561h3v1h-3zM252 561h3v1h-3zM258 561h3v1h-3zM264 561h3v1h-3zM270 561h3v1h-3zM276 561h3v1h-3zM282 561h3v1h-3zM288 561h3v1h-3zM294 561h3v1h-3zM300 561h3v1h-3zM306 561h3v1h-3zM312 561h3v1h-3zM318 561h3v1h-3zM324 561h3v1h-3zM330 561h3v1h-3zM336 561h3v1h-3zM342 561h3v1h-3zM348 561h3v1h-3zM354 561h3v1h-3zM360 561h3v1h-3zM366 561h3v1h-3zM372 561h3v1h-3zM378 561h3v1h-3zM384 561h3v1h-3zM390 561h3v1h-3zM396 561h3v1h-3zM402 561h3v1h-3zM408 561h3v1h-3zM414 561h3v1h-3zM420 561h3v1h-3zM426 561h3v1h-3zM432 561h3v1h-3zM438 561h3v1h-3zM444 561h3v1h-3zM450 561h3v1h-3zM456 561h3v1h-3zM462 561h3v1h-3zM468 561h3v1h-3zM474 561h3v1h-3zM480 561h3v1h-3zM486 561h3v1h-3zM492 561h3v1h-3zM498 561h3v1h-3zM504 561h3v1h-3zM510 561h3v1h-3zM516 561h3v1h-3zM522 561h3v1h-3zM528 561h3v1h-3zM534 561h3v1h-3zM540 561h3v1h-3zM546 561h3v1h-3zM552 561h3v1h-3zM558 561h3v1h-3zM564 561h3v1h-3zM570 561h3v1h-3zM576 561h3v1h-3zM582 561h3v1h-3zM588 561h3v1h-3zM594 561h3v1h-3zM600 561h3v1h-3zM606 561h3v1h-3zM612 561h3v1h-3zM618 561h3v1h-3zM624 561h3v1h-3zM630 561h3v1h-3zM636 561h3v1h-3zM642 561h3v1h-3zM648 561h3v1h-3zM654 561h3v1h-3zM660 561h3v1h-3zM666 561h3v1h-3zM672 561h3v1h-3zM678 561h3v1h-3zM684 561h3v1h-3zM690 561h3v1h-3zM696 561h3v1h-3zM702 561h3v1h-3zM708 561h3v1h-3zM714 561h3v1h-3zM720 561h3v1h-3zM726 561h3v1h-3zM732 561h3v1h-3zM738 561h3v1h-3zM744 561h3v1h-3zM750 561h3v1h-3zM756 561h3v1h-3zM762 561h3v1h-3zM768 561h3v1h-3zM774 561h3v1h-3zM780 561h3v1h-3zM786 561h3v1h-3zM792 561h3v1h-3zM798 561h3v1h-3zM804 561h3v1h-3zM810 561h3v1h-3zM816 561h3v1h-3zM822 561h3v1h-3zM828 561h3v1h-3zM834 561h3v1h-3zM840 561h3v1h-3zM846 561h3v1h-3zM852 561h3v1h-3zM858 561h3v1h-3zM864 561h3v1h-3zM870 561h3v1h-3zM876 561h3v1h-3zM882 561h3v1h-3zM888 561h3v1h-3zM894 561h3v1h-3zM900 561h3v1h-3zM906 561h3v1h-3zM912 561h3v1h-3zM918 561h3v1h-3zM924 561h3v1h-3zM930 561h3v1h-3zM936 561h3v1h-3zM942 561h3v1h-3zM948 561h3v1h-3zM954 561h3v1h-3zM960 561h3v1h-3zM966 561h3v1h-3zM972 561h3v1h-3zM978 561h3v1h-3zM984 561h3v1h-3zM990 561h3v1h-3zM996 561h3v1h-3zM1002 561h3v1h-3zM1008 561h3v1h-3zM1014 561h3v1h-3zM1020 561h3v1h-3zM1026 561h3v1h-3zM1032 561h3v1h-3zM1038 561h3v1h-3zM1044 561h3v1h-3zM1050 561h3v1h-3zM1056 561h3v1h-3zM1062 561h3v1h-3zM1068 561h3v1h-3zM1074 561h3v1h-3zM1080 561h3v1h-3zM1086 561h3v1h-3zM1092 561h3v1h-3zM1098 561h3v1h-3zM1104 561h3v1h-3zM1110 561h3v1h-3zM1116 561h3v1h-3zM1122 561h3v1h-3zM1128 561h3v1h-3zM1134 561h3v1h-3zM1140 561h3v1h-3zM1146 561h3v1h-3zM1152 561h3v1h-3zM1158 561h3v1h-3zM1164 561h3v1h-3zM1170 561h3v1h-3zM1176 561h3v1h-3zM1182 561h3v1h-3zM1188 561h3v1h-3zM1194 561h3v1h-3zM1200 561h3v1h-3zM1206 561h3v1h-3zM1212 561h3v1h-3zM1218 561h3v1h-3zM1224 561h3v1h-3zM1230 561h3v1h-3zM1236 561h3v1h-3zM1242 561h3v1h-3zM1248 561h3v1h-3zM1254 561h3v1h-3zM1260 561h3v1h-3zM1266 561h3v1h-3zM1272 561h3v1h-3zM1278 561h3v1h-3zM1284 561h3v1h-3zM1290 561h3v1h-3zM1296 561h3v1h-3zM1302 561h3v1h-3zM1308 561h3v1h-3zM1314 561h3v1h-3zM1320 561h3v1h-3zM1326 561h3v1h-3zM1332 561h3v1h-3zM1338 561h3v1h-3zM1344 561h3v1h-3zM1350 561h3v1h-3zM1356 561h3v1h-3zM1362 561h3v1h-3zM1368 561h3v1h-3zM1374 561h3v1h-3zM1380 561h3v1h-3zM1386 561h3v1h-3zM1392 561h3v1h-3zM1398 561h3v1h-3zM1404 561h3v1h-3zM1410 561h3v1h-3zM1416 561h3v1h-3zM1422 561h3v1h-3zM1428 561h3v1h-3zM1434 561h3v1h-3zM1440 561h3v1h-3zM1446 561h3v1h-3zM1452 561h3v1h-3zM1458 561h3v1h-3zM1464 561h3v1h-3zM1470 561h3v1h-3zM1476 561h3v1h-3zM1482 561h3v1h-3zM1488 561h3v1h-3zM1494 561h3v1h-3zM1500 561h3v1h-3zM1506 561h3v1h-3zM1512 561h3v1h-3zM1518 561h3v1h-3z" fill="#c0c0c0"/>
<path d="M6 597h3v1h-3zM12 597h3v1h-3zM18 597h3v1h-3zM24 597h3v1h-3zM30 597h3v1h-3zM36 597h3v1h-3zM42 597h3v1h-3zM48 597h3v1h-3zM54 597h3v1h-3zM60 597h3v1h-3zM66 597h3v1h-3zM72 597h3v1h-3zM78 597h3v1h-3zM84 597h3v1h-3zM90 597h3v1h-3zM96 597h3v1h-3zM102 597h3v1h-3zM108 597h3v1h-3zM114 597h3v1h-3zM120 597h3v1h-3zM126 597h3v1h-3zM132 597h3v1h-3zM138 597h3v1h-3zM144 597h3v1h-3zM150 597h3v1h-3zM156 597h3v1h-3zM162 597h3v1h-3zM168 597h3v1h-3zM174 597h3v1h-3zM180 597h3v1h-3zM186 597h3v1h-3zM192 597h3v1h-3zM198 597h3v1h-3zM204 597h3v1h-3zM210 597h3v1h-3zM216 597h3v1h-3zM222 597h3v1h-3zM228 597h3v1h-3zM234 597h3v1h-3zM240 597h3v1h-3zM246 597h3v1h-3zM252 597h3v1h-3zM258 597h3v1h-3zM264 597h3v1h-3zM270 597h3v1h-3zM276 597h3v1h-3zM282 597h3v1h-3zM288 597h3v1h-3zM294 597h3v1h-3zM300 597h3v1h-3zM306 597h3v1h-3zM312 597h3v1h-3zM318 597h3v1h-3zM324 597h3v1h-3zM330 597h3v1h-3zM336 597h3v1h-3zM342 597h3v1h-3zM348 597h3v1h-3zM354 597h3v1h-3zM360 597h3v1h-3zM366 597h3v1h-3zM372 597h3v1h-3zM378 597h3v1h-3zM384 597h3v1h-3zM390 597h3v1h-3zM396 597h3v1h-3zM402 597h3v1h-3zM408 597h3v1h-3zM414 597h3v1h-3zM420 597h3v1h-3zM426 597h3v1h-3zM432 597h3v1h-3zM438 597h3v1h-3zM444 597h3v1h-3zM450 597h3v1h-3zM456 597h3v1h-3zM462 597h3v1h-3zM468 597h3v1h-3zM474 597h3v1h-3zM480 597h3v1h-3zM486 597h3v1h-3zM492 597h3v1h-3zM498 597h3v1h-3zM504 597h3v1h-3zM510 597h3v1h-3zM516 597h3v1h-3zM522 597h3v1h-3zM528 597h3v1h-3zM534 597h3v1h-3zM540 597h3v1h-3zM546 597h3v1h-3zM552 597h3v1h-3zM558 597h3v1h-3zM564 597h3v1h-3zM570 597h3v1h-3zM576 597h3v1h-3zM582 597h3v1h-3zM588 597h3v1h-3zM594 597h3v1h-3zM600 597h3v1h-3zM606 597h3v1h-3zM612 597h3v1h-3zM618 597h3v1h-3zM624 597h3v1h-3zM630 597h3v1h-3zM636 597h3v1h-3zM642 597h3v1h-3zM648 597h3v1h-3zM654 597h3v1h-3zM660 597h3v1h-3zM666 597h3v1h-3zM672 597h3v1h-3zM678 597h3v1h-3zM684 597h3v1h-3zM690 597h3v1h-3zM696 597h3v1h-3zM702 597h3v1h-3zM708 597h3v1h-3zM714 597h3v1h-3zM720 597h3v1h-3zM726 597h3v1h-3zM732 597h3v1h-3zM738 597h3v1h-3zM744 597h3v1h-3zM750 597h3v1h-3zM756 597h3v1h-3zM762 597h3v1h-3zM768 597h3v1h-3zM774 597h3v1h-3zM780 597h3v1h-3zM786 597h3v1h-3zM792 597h3v1h-3zM798 597h3v1h-3zM804 597h3v1h-3zM810 597h3v1h-3zM816 597h3v1h-3zM822 597h3v1h-3zM828 597h3v1h-3zM834 597h3v1h-3zM840 597h3v1h-3zM846 597h3v1h-3zM852 597h3v1h-3zM858 597h3v1h-3zM864 597h3v1h-3zM870 597h3v1h-3zM876 597h3v1h-3zM882 597h3v1h-3zM888 597h3v1h-3zM894 597h3v1h-3zM900 597h3v1h-3zM906 597h3v1h-3zM912 597h3v1h-3zM918 597h3v1h-3zM924 597h3v1h-3zM930 597h3v1h-3zM936 597h3v1h-3zM942 597h3v1h-3zM948 597h3v1h-3zM954 597h3v1h-3zM960 597h3v1h-3zM966 597h3v1h-3zM972 597h3v1h-3zM978 597h3v1h-3zM984 597h3v1h-3zM990 597h3v1h-3zM996 597h3v1h-3zM1002 597h3v1h-3zM1008 597h3v1h-3zM1014 597h3v1h-3zM1020 597h3v1h-3zM1026 597h3v1h-3zM1032 597h3v1h-3zM1038 597h3v1h-3zM1044 597h3v1h-3zM1050 597h3v1h-3zM1056 597h3v1h-3zM1062 597h3v1h-3zM1068 597h3v1h-3zM1074 597h3v1h-3zM1080 597h3v1h-3zM1086 597h3v1h-3zM1092 597h3v1h-3zM1098 597h3v1h-3zM1104 597h3v1h-3zM1110 597h3v1h-3zM1116 597h3v1h-3zM1122 597h3v1h-3zM1128 597h3v1h-3zM1134 597h3v1h-3zM1140 597h3v1h-3zM1146 597h3v1h-3zM1152 597h3v1h-3zM1158 597h3v1h-3zM1164 597h3v1h-3zM1170 597h3v1h-3zM1176 597h3v1h-3zM1182 597h3v1h-3zM1188 597h3v1h-3zM1194 597h3v1h-3zM1200 597h3v1h-3zM1206 597h3v1h-3zM1212 597h3v1h-3zM1218 597h3v1h-3zM1224 597h3v1h-3zM1230 597h3v1h-3zM1236 597h3v1h-3zM1242 597h3v1h-3zM1248 597h3v1h-3zM1254 597h3v1h-3zM1260 597h3v1h-3zM1266 597h3v1h-3zM1272 597h3v1h-3zM1278 597h3v1h-3zM1284 597h3v1h-3zM1290 597h3v1h-3zM1296 597h3v1h-3zM1302 597h3v1h-3zM1308 597h3v1h-3zM1314 597h3v1h-3zM1320 597h3v1h-3zM1326 597h3v1h-3zM1332 597h3v1h-3zM1338 597h3v1h-3zM1344 597h3v1h-3zM1350 597h3v1h-3zM1356 597h3v1h-3zM1362 597h3v1h-3zM1368 597h3v1h-3zM1374 597h3v1h-3zM1380 597h3v1h-3zM1386 597h3v1h-3zM1392 597h3v1h-3zM1398 597h3v1h-3zM1404 597h3v1h-3zM1410 597h3v1h-3zM1416 597h3v1h-3zM1422 597h3v1h-3zM1428 597h3v1h-3zM1434 597h3v1h-3zM1440 597h3v1h-3zM1446 597h3v1h-3zM1452 597h3v1h-3zM1458 597h3v1h-3zM1464 597h3v1h-3zM1470 597h3v1h-3zM1476 597h3v1h-3zM1482 597h3v1h-3zM1488 597h3v1h-3zM1494 597h3v1h-3zM1500 597h3v1h-3zM1506 597h3v1h-3zM1512 597h3v1h-3zM1518 597h3v1h-3z" fill="#c0c0c0"/>
<path d="M5 591h3v1h-3zM8 590h2v1h-2zM10 589h2v1h-2zM12 588h1v1h-1zM13 587h1v1h-1zM14 586h1v1h-1zM15 584h1v2h-1zM16 583h1v1h-1zM17 582h1v1h-1zM18 580h1v2h-1zM19 578h1v2h-1zM20 576h1v2h-1zM21 575h1v1h-1zM22 574h1v1h-1zM23 572h1v2h-1zM24 571h1v1h-1zM25 570h3v1h-3zM28 569h2v1h-2zM30 567h1v2h-1zM31 565h1v2h-1zM32 563h1v2h-1zM33 562h1v1h-1zM34 561h2v1h-2zM36 560h1v1h-1zM37 559h3v1h-3zM40 558h2v1h-2zM42 559h1v2h-1zM43 561h1v2h-1zM44 563h1v2h-1zM45 565h3v1h-3zM48 564h3v1h-3zM51 565h2v1h-2zM53 566h1v1h-1zM54 567h1v2h-1zM55 569h1v2h-1zM56 571h1v2h-1zM57 573h1v2h-1zM58 575h1v2h-1zM59 577h1v2h-1zM60 579h1v2h-1zM61 581h1v2h-1zM62 582h1v1h-1zM63 583h2v1h-2zM65 584h1v1h-1zM66 583h1v1h-1zM67 581h1v2h-1zM68 580h1v1h-1zM69 579h1v1h-1zM70 580h1v2h-1zM71 582h1v1h-1zM72 583h1v2h-1zM73 585h1v1h-1zM74 584h1v1h-1zM75 583h1v1h-1zM76 582h1v1h-1zM77 580h1v2h-1zM78 578h1v2h-1zM79 576h1v2h-1zM80 574h1v2h-1zM81 573h1v1h-1zM82 572h1v1h-1zM83 570h1v2h-1zM84 569h1v1h-1zM85 568h1v1h-1zM86 567h2v1h-2zM88 566h1v1h-1zM89 565h2v1h-2zM91 564h2v1h-2zM93 563h3v1h-3zM96 564h6v1h-6zM102 565h2v1h-2zM104 566h1v1h-1zM105 567h3v1h-3zM108 566h6v1h-6zM113 567h1v1h-1zM114 568h1v3h-1zM115 571h1v3h-1zM116 574h1v3h-1zM117 577h1v2h-1zM118 578h2v1h-2zM120 579h2v1h-2zM122 580h2v1h-2zM124 581h1v1h-1zM125 582h3v1h-3zM128 581h2v1h-2zM129 582h1v1h-1zM130 583h1v2h-1zM131 585h1v2h-1zM132 587h1v2h-1zM133 589h3v1h-3zM136 588h4v1h-4zM140 589h6v1h-6zM145 588h1v1h-1zM146 586h1v2h-1zM147 584h1v2h-1zM148 582h1v2h-1zM149 581h7v1h-7zM156 582h2v1h-2zM158 581h2v1h-2zM160 580h1v1h-1zM161 579h2v1h-2zM163 580h2v1h-2zM165 581h1v1h-1zM166 582h1v2h-1zM167 584h1v1h-1zM168 585h1v2h-1zM169 587h1v1h-1zM170 586h2v1h-2zM172 585h1v1h-1zM173 584h2v1h-2zM175 585h2v1h-2zM177 586h3v1h-3zM180 585h4v1h-4zM184 586h4v1h-4zM188 587h2v1h-2zM190 588h1v2h-1zM191 590h1v2h-1zM192 592h1v2h-1zM193 594h3v1h-3zM196 595h2v1h-2zM198 594h2v1h-2zM200 593h1v1h-1zM201 592h1v1h-1zM202 593h1v1h-1zM203 594h1v1h-1zM204 595h1v1h-1zM205 596h3v1h-3zM208 595h2v1h-2zM210 594h1v1h-1zM211 593h1v1h-1zM212 592h1v1h-1zM213 591h3v1h-3zM216 590h3v1h-3zM219 591h2v1h-2zM221 592h1v1h-1zM222 593h1v2h-1zM223 595h1v2h-1zM224 597h1v2h-1zM225 598h1v2h-1zM226 596h1v2h-1zM227 593h1v3h-1zM228 591h1v2h-1zM229 589h1v2h-1zM230 589h2v1h-2zM232 590h2v1h-2zM233 589h1v1h-1zM234 586h1v3h-1zM235 582h1v4h-1zM236 579h1v3h-1zM237 577h1v2h-1zM238 577h4v1h-4zM242 576h1v1h-1zM243 575h1v1h-1zM244 574h1v1h-1zM245 573h1v1h-1zM246 574h1v1h-1zM247 575h1v1h-1zM248 576h1v1h-1zM249 577h2v1h-2zM251 576h2v1h-2zM253 575h3v1h-3zM256 576h3v1h-3zM259 575h2v1h-2zM261 574h1v1h-1zM262 575h1v2h-1zM263 577h1v2h-1zM264 579h1v2h-1zM265 581h1v1h-1zM266 582h1v1h-1zM267 583h1v1h-1zM268 584h1v1h-1zM269 585h1v1h-1zM270 586h1v1h-1zM271 587h1v1h-1zM272 588h1v1h-1zM273 589h2v1h-2zM275 590h2v1h-2zM277 591h3v1h-3zM280 590h18v1h-18zM297 589h1v1h-1zM298 587h1v2h-1zM299 584h1v3h-1zM300 582h1v2h-1zM301 580h1v2h-1zM302 580h4v1h-4zM306 581h1v1h-1zM307 582h1v2h-1zM308 584h1v1h-1zM309 585h2v1h-2zM311 586h2v1h-2zM313 587h2v1h-2zM315 588h2v1h-2zM317 589h1v1h-1zM318 590h2v1h-2zM320 591h1v1h-1zM321 592h1v1h-1zM322 593h1v2h-1zM323 595h1v1h-1zM324 596h1v2h-1zM325 598h3v1h-3zM328 599h4v1h-4zM332 600h6v1h-6zM337 599h1v1h-1zM338 596h1v3h-1zM339 594h1v2h-1zM340 591h1v3h-1zM341 589h1v2h-1zM342 588h2v1h-2zM344 587h1v1h-1zM345 586h3v1h-3zM348 585h3v1h-3zM351 586h2v1h-2zM353 587h1v1h-1zM354 586h1v1h-1zM355 584h1v2h-1zM356 583h1v1h-1zM357 582h2v1h-2zM359 583h2v1h-2zM361 584h1v1h-1zM362 585h1v1h-1zM363 586h1v2h-1zM364 588h1v1h-1zM365 588h1v2h-1zM366 585h1v3h-1zM367 583h1v2h-1zM368 580h1v3h-1zM369 578h1v2h-1zM370 578h6v1h-6zM376 579h2v1h-2zM377 580h1v1h-1zM378 581h1v2h-1zM379 583h1v2h-1zM380 585h1v2h-1zM381 586h1v2h-1zM382 584h1v2h-1zM383 582h1v2h-1zM384 580h1v2h-1zM385 579h3v1h-3zM388 580h4v1h-4zM392 581h2v1h-2zM394 582h1v1h-1zM395 583h1v2h-1zM396 585h1v1h-1zM397 586h2v1h-2zM399 585h2v1h-2zM401 584h1v1h-1zM402 585h2v1h-2zM404 586h1v1h-1zM405 587h5v1h-5zM410 588h1v1h-1zM411 589h1v2h-1zM412 591h1v1h-1zM413 592h3v1h-3zM416 593h4v1h-4zM420 592h6v1h-6zM426 593h1v1h-1zM427 594h1v1h-1zM428 595h1v1h-1zM429 596h1v1h-1zM430 595h1v1h-1zM431 593h1v2h-1zM432 592h1v1h-1zM433 591h1v1h-1zM434 590h1v1h-1zM435 589h1v1h-1zM436 588h1v1h-1zM437 587h1v1h-1zM438 585h1v2h-1zM439 584h1v1h-1zM440 582h1v2h-1zM441 581h2v1h-2zM443 582h2v1h-2zM445 583h2v1h-2zM447 582h2v1h-2zM449 581h5v1h-5zM454 582h1v1h-1zM455 583h1v2h-1zM456 585h1v1h-1zM457 586h1v1h-1zM458 585h1v1h-1zM459 583h1v2h-1zM460 582h1v1h-1zM461 581h1v1h-1zM462 580h1v1h-1zM463 578h1v2h-1zM464 577h1v1h-1zM465 576h1v1h-1zM466 575h1v1h-1zM467 574h1v1h-1zM468 573h1v1h-1zM469 572h5v1h-5zM474 573h2v1h-2zM476 574h1v1h-1zM477 575h3v1h-3zM480 574h2v1h-2zM482 572h1v2h-1zM483 571h1v1h-1zM484 569h1v2h-1zM485 568h1v1h-1zM486 567h1v1h-1zM487 565h1v2h-1zM488 564h1v1h-1zM489 563h2v1h-2zM491 562h2v1h-2zM493 561h3v1h-3zM496 560h2v1h-2zM498 561h1v1h-1zM499 562h1v1h-1zM500 563h1v1h-1zM501 564h3v1h-3zM504 565h2v1h-2zM506 566h1v1h-1zM507 567h1v1h-1zM508 568h1v1h-1zM509 569h1v1h-1zM510 570h1v1h-1zM511 571h1v1h-1zM512 572h1v1h-1zM513 573h1v1h-1zM514 574h2v1h-2zM516 575h1v1h-1zM517 576h6v1h-6zM523 575h2v1h-2zM525 574h1v1h-1zM526 573h2v1h-2zM528 572h1v1h-1zM529 571h3v1h-3zM532 570h2v1h-2zM534 569h1v1h-1zM535 568h1v1h-1zM536 567h1v1h-1zM537 566h2v1h-2zM539 565h2v1h-2zM541 564h3v1h-3zM544 565h3v1h-3zM547 566h2v1h-2zM549 567h1v2h-1zM550 569h1v4h-1zM551 573h1v4h-1zM552 577h1v4h-1zM553 581h1v2h-1zM554 582h4v1h-4zM558 583h1v1h-1zM559 584h1v1h-1zM560 585h1v1h-1zM561 586h1v1h-1zM562 587h2v1h-2zM564 588h1v1h-1zM565 589h5v1h-5zM570 588h2v1h-2zM572 587h1v1h-1zM573 586h1v1h-1zM574 587h2v1h-2zM576 588h1v1h-1zM577 589h3v1h-3zM580 590h6v1h-6zM585 589h1v1h-1zM586 587h1v2h-1zM587 585h1v2h-1zM588 583h1v2h-1zM589 581h1v2h-1zM590 581h2v1h-2zM592 580h2v1h-2zM594 579h1v1h-1zM595 578h1v1h-1zM596 577h1v1h-1zM597 576h5v1h-5zM602 577h1v1h-1zM603 578h1v1h-1zM604 579h1v1h-1zM605 580h1v1h-1zM606 579h2v1h-2zM608 578h1v1h-1zM609 577h1v1h-1zM610 578h1v2h-1zM611 580h1v2h-1zM612 582h1v2h-1zM613 584h3v1h-3zM616 585h3v1h-3zM619 586h2v1h-2zM621 587h6v1h-6zM627 588h2v1h-2zM629 589h2v1h-2zM631 588h2v1h-2zM633 587h1v1h-1zM634 586h1v1h-1zM635 585h1v1h-1zM636 584h1v1h-1zM637 583h2v1h-2zM639 584h2v1h-2zM641 584h1v2h-1zM642 581h1v3h-1zM643 579h1v2h-1zM644 576h1v3h-1zM645 574h1v2h-1zM646 574h2v1h-2zM648 573h3v1h-3zM651 572h2v1h-2zM653 571h5v1h-5zM657 572h1v1h-1zM658 573h1v2h-1zM659 575h1v2h-1zM660 577h1v2h-1zM661 579h5v1h-5zM666 578h2v1h-2zM668 577h1v1h-1zM669 576h1v1h-1zM670 575h1v1h-1zM671 574h1v1h-1zM672 573h1v1h-1zM673 572h2v1h-2zM675 573h2v1h-2zM677 574h1v1h-1zM678 573h1v1h-1zM679 571h1v2h-1zM680 570h1v1h-1zM681 569h1v1h-1zM682 568h2v1h-2zM684 567h1v1h-1zM685 566h1v1h-1zM686 567h1v1h-1zM687 568h1v1h-1zM688 569h1v1h-1zM689 570h1v1h-1zM690 569h2v1h-2zM692 568h1v1h-1zM693 567h2v1h-2zM695 566h2v1h-2zM697 565h1v1h-1zM698 566h1v2h-1zM699 568h1v1h-1zM700 569h1v2h-1zM701 571h1v1h-1zM702 572h2v1h-2zM704 573h1v1h-1zM705 574h1v1h-1zM706 575h1v1h-1zM707 576h1v2h-1zM708 578h1v1h-1zM709 579h1v1h-1zM710 580h2v1h-2zM712 581h1v1h-1zM713 582h1v1h-1zM714 581h2v1h-2zM716 580h1v1h-1zM717 579h3v1h-3zM720 578h4v1h-4zM724 579h2v1h-2zM726 578h2v1h-2zM728 577h1v1h-1zM729 575h1v2h-1zM730 573h1v2h-1zM731 571h1v2h-1zM732 569h1v2h-1zM733 567h1v2h-1zM734 566h2v1h-2zM736 565h1v1h-1zM737 564h3v1h-3zM740 563h2v1h-2zM742 562h2v1h-2zM744 561h1v1h-1zM745 560h2v1h-2zM747 561h2v1h-2zM749 562h1v1h-1zM750 563h2v1h-2zM752 564h1v1h-1zM753 565h1v2h-1zM754 567h1v2h-1zM755 569h1v2h-1zM756 571h1v2h-1zM757 573h2v1h-2zM759 572h2v1h-2zM761 571h3v1h-3zM764 570h2v1h-2zM765 571h1v1h-1zM766 572h1v2h-1zM767 574h1v2h-1zM768 576h1v2h-1zM769 578h1v1h-1zM770 579h1v1h-1zM771 580h1v1h-1zM772 581h1v1h-1zM773 582h2v1h-2zM775 583h2v1h-2zM777 584h3v1h-3zM780 583h3v1h-3zM783 582h2v1h-2zM785 581h2v1h-2zM787 580h2v1h-2zM789 579h1v1h-1zM790 580h2v1h-2zM792 581h1v1h-1zM793 582h1v1h-1zM794 580h1v2h-1zM795 579h1v1h-1zM796 577h1v2h-1zM797 576h2v1h-2zM799 577h2v1h-2zM801 578h1v1h-1zM802 579h1v2h-1zM803 581h1v2h-1zM804 583h1v2h-1zM805 585h7v1h-7zM812 586h2v1h-2zM814 585h2v1h-2zM816 584h1v1h-1zM817 583h1v1h-1zM818 584h1v1h-1zM819 585h1v1h-1zM820 586h1v1h-1zM821 587h1v1h-1zM822 588h1v1h-1zM823 589h1v1h-1zM824 590h1v1h-1zM825 591h1v1h-1zM826 592h2v1h-2zM828 593h1v1h-1zM829 594h2v1h-2zM831 593h2v1h-2zM833 592h2v1h-2zM835 593h2v1h-2zM837 594h2v1h-2zM839 595h2v1h-2zM841 596h3v1h-3zM844 595h2v1h-2zM845 594h1v1h-1zM846 592h1v2h-1zM847 590h1v2h-1zM848 588h1v2h-1zM849 586h1v2h-1zM850 584h1v2h-1zM851 582h1v2h-1zM852 580h1v2h-1zM853 579h3v1h-3zM856 578h2v1h-2zM858 579h1v1h-1zM859 580h1v2h-1zM860 582h1v1h-1zM861 583h2v1h-2zM863 584h2v1h-2zM865 585h1v1h-1zM866 586h1v1h-1zM867 587h1v2h-1zM868 589h1v1h-1zM869 590h1v1h-1zM870 591h2v1h-2zM872 592h1v1h-1zM873 593h2v1h-2zM875 594h2v1h-2zM877 595h3v1h-3zM880 596h3v1h-3zM883 597h2v1h-2zM885 598h3v1h-3zM888 599h3v1h-3zM891 600h2v1h-2zM893 601h1v1h-1zM894 602h2v1h-2zM896 603h1v1h-1zM897 604h3v1h-3zM900 605h8v1h-8zM908 606h7v1h-7zM915 607h2v1h-2zM917 608h1v1h-1zM918 607h2v1h-2zM920 606h1v1h-1zM921 604h1v2h-1zM922 601h1v3h-1zM923 598h1v3h-1zM924 595h1v3h-1zM925 593h1v2h-1zM926 593h2v1h-2zM928 592h4v1h-4zM932 591h4v1h-4zM936 590h6v1h-6zM941 588h1v2h-1zM942 583h1v5h-1zM943 578h1v5h-1zM944 573h1v5h-1zM945 570h1v3h-1zM946 570h2v1h-2zM948 569h2v1h-2zM950 568h1v1h-1zM951 567h1v1h-1zM952 566h1v1h-1zM953 564h1v2h-1zM954 562h1v2h-1zM955 560h1v2h-1zM956 558h1v2h-1zM957 557h2v1h-2zM959 556h2v1h-2zM961 555h1v1h-1zM962 556h1v1h-1zM963 557h1v2h-1zM964 559h1v1h-1zM965 560h2v1h-2zM967 559h2v1h-2zM969 558h1v1h-1zM970 556h1v2h-1zM971 555h1v1h-1zM972 553h1v2h-1zM973 552h5v1h-5zM978 551h2v1h-2zM980 550h1v1h-1zM981 549h1v2h-1zM982 551h1v2h-1zM983 553h1v2h-1zM984 555h1v2h-1zM985 557h1v2h-1zM986 559h1v2h-1zM987 561h1v2h-1zM988 563h1v2h-1zM989 565h1v2h-1zM990 567h1v4h-1zM991 571h1v4h-1zM992 575h1v4h-1zM993 579h1v2h-1zM994 580h2v1h-2zM996 581h4v1h-4zM1000 580h2v1h-2zM1002 579h1v1h-1zM1003 578h1v1h-1zM1004 577h1v1h-1zM1005 576h1v2h-1zM1006 578h1v2h-1zM1007 580h1v3h-1zM1008 583h1v2h-1zM1009 585h1v2h-1zM1010 587h1v2h-1zM1011 589h1v1h-1zM1012 590h1v2h-1zM1013 592h1v1h-1zM1014 593h1v1h-1zM1015 594h1v1h-1zM1016 595h1v1h-1zM1017 596h3v1h-3zM1020 597h6v1h-6zM1026 595h1v2h-1zM1027 593h1v2h-1zM1028 591h1v2h-1zM1029 590h2v1h-2zM1031 589h2v1h-2zM1033 588h2v1h-2zM1035 587h2v1h-2zM1037 585h1v2h-1zM1038 583h1v2h-1zM1039 580h1v3h-1zM1040 578h1v2h-1zM1041 576h1v2h-1zM1042 576h1v1h-1zM1043 575h2v1h-2zM1045 574h2v1h-2zM1047 573h2v1h-2zM1049 572h1v1h-1zM1050 573h1v1h-1zM1051 574h1v2h-1zM1052 576h1v1h-1zM1053 577h5v1h-5zM1058 578h1v1h-1zM1059 579h1v1h-1zM1060 580h1v1h-1zM1061 581h1v1h-1zM1062 582h1v1h-1zM1063 583h1v1h-1zM1064 584h1v1h-1zM1065 585h2v1h-2zM1067 586h2v1h-2zM1069 587h3v1h-3zM1072 586h4v1h-4zM1076 587h2v1h-2zM1078 586h1v1h-1zM1079 584h1v2h-1zM1080 583h1v1h-1zM1081 582h3v1h-3zM1084 583h2v1h-2zM1086 582h1v1h-1zM1087 581h1v1h-1zM1088 580h1v1h-1zM1089 579h3v1h-3zM1092 578h4v1h-4zM1096 579h4v1h-4zM1100 580h2v1h-2zM1102 579h1v1h-1zM1103 578h1v1h-1zM1104 577h1v1h-1zM1105 576h1v1h-1zM1106 577h1v1h-1zM1107 578h1v2h-1zM1108 580h1v1h-1zM1109 581h1v1h-1zM1110 582h2v1h-2zM1112 583h1v1h-1zM1113 584h2v1h-2zM1115 583h2v1h-2zM1117 582h11v1h-11zM1128 583h3v1h-3zM1131 584h2v1h-2zM1133 585h3v1h-3zM1136 586h4v1h-4zM1140 587h6v1h-6zM1146 586h2v1h-2zM1148 585h1v1h-1zM1149 584h3v1h-3zM1152 583h3v1h-3zM1155 582h2v1h-2zM1157 581h1v1h-1zM1158 579h1v2h-1zM1159 577h1v2h-1zM1160 575h1v2h-1zM1161 574h1v1h-1zM1162 573h1v1h-1zM1163 571h1v2h-1zM1164 570h1v1h-1zM1165 569h2v1h-2zM1167 570h2v1h-2zM1169 571h1v1h-1zM1170 572h1v1h-1zM1171 573h1v2h-1zM1172 575h1v1h-1zM1173 576h1v1h-1zM1174 577h1v2h-1zM1175 579h1v2h-1zM1176 581h1v2h-1zM1177 583h1v1h-1zM1178 584h2v1h-2zM1180 585h1v1h-1zM1181 586h3v1h-3zM1184 585h2v1h-2zM1186 584h1v1h-1zM1187 583h1v1h-1zM1188 582h1v1h-1zM1189 581h3v1h-3zM1192 582h3v1h-3zM1195 583h2v1h-2zM1197 584h1v1h-1zM1198 583h1v1h-1zM1199 582h1v1h-1zM1200 581h1v1h-1zM1201 580h2v1h-2zM1203 581h2v1h-2zM1205 582h3v1h-3zM1208 583h2v1h-2z" fill="#1e90ff"/>
<text x="9.4" y="546" font-size="10" fill="#000" stroke="#000" stroke-width="0.2" textLength="67" lengthAdjust="spacingAndGlyphs" >RSI(14) 45.2957</text>
<text x="1524" y="544" font-size="10" fill="#000" stroke="#000" stroke-width="0.2" >100</text>
<text x="1524" y="564.5" font-size="10" fill="#000" stroke="#000" stroke-width="0.2" >70</text>
<text x="1524" y="600.5" font-size="10" fill="#000" stroke="#000" stroke-width="0.2" >30</text>
<text x="1524" y="621" font-size="10" fill="#000" stroke="#000" stroke-width="0.2" >0</text>
<path d="M5 679h1v6h-1zM9 679h1v7h-1zM13 679h1v7h-1zM17 679h1v7h-1zM21 679h1v5h-1zM25 679h1v3h-1zM29 679h1v1h-1zM33 675h1v5h-1zM37 671h1v9h-1zM41 668h1v12h-1zM45 667h1v13h-1zM49 665h1v15h-1zM53 665h1v15h-1zM57 666h1v14h-1zM61 669h1v11h-1zM65 671h1v9h-1zM69 673h1v7h-1zM73 675h1v5h-1zM77 676h1v4h-1zM81 675h1v5h-1zM85 672h1v8h-1zM89 669h1v11h-1zM93 666h1v14h-1zM97 664h1v16h-1zM101 662h1v18h-1zM105 661h1v19h-1zM109 661h1v19h-1zM113 661h1v19h-1zM117 663h1v17h-1zM121 666h1v14h-1zM125 669h1v11h-1zM129 671h1v9h-1zM133 675h1v5h-1zM137 678h1v2h-1zM141 679h1v3h-1zM145 679h1v5h-1zM149 679h1v5h-1zM153 679h1v5h-1zM157 679h1v5h-1zM161 679h1v4h-1zM165 679h1v4h-1zM169 679h1v6h-1zM173 679h1v6h-1zM177 679h1v7h-1zM181 679h1v7h-1zM185 679h1v8h-1zM189 679h1v8h-1zM193 679h1v10h-1zM197 679h1v13h-1zM201 679h1v14h-1zM205 679h1v15h-1zM209 679h1v17h-1zM213 679h1v17h-1zM217 679h1v16h-1zM221 679h1v17h-1zM225 679h1v19h-1zM229 679h1v19h-1zM233 679h1v19h-1zM237 679h1v15h-1zM241 679h1v13h-1zM245 679h1v9h-1zM249 679h1v7h-1zM253 679h1v5h-1zM257 679h1v3h-1zM261 679h1v2h-1zM265 679h1v2h-1zM269 679h1v4h-1zM273 679h1v6h-1zM277 679h1v9h-1zM281 679h1v10h-1zM285 679h1v11h-1zM289 679h1v12h-1zM293 679h1v13h-1zM297 679h1v13h-1zM301 679h1v12h-1zM305 679h1v10h-1zM309 679h1v10h-1zM313 679h1v10h-1zM317 679h1v11h-1zM321 679h1v12h-1zM325 679h1v15h-1zM329 679h1v18h-1zM333 679h1v21h-1zM337 679h1v22h-1zM341 679h1v21h-1zM345 679h1v20h-1zM349 679h1v18h-1zM353 679h1v17h-1zM357 679h1v15h-1zM361 679h1v14h-1zM365 679h1v15h-1zM369 679h1v12h-1zM373 679h1v10h-1zM377 679h1v9h-1zM381 679h1v10h-1zM385 679h1v8h-1zM389 679h1v8h-1zM393 679h1v7h-1zM397 679h1v8h-1zM401 679h1v8h-1zM405 679h1v10h-1zM409 679h1v10h-1zM413 679h1v12h-1zM417 679h1v14h-1zM421 679h1v15h-1zM425 679h1v16h-1zM429 679h1v18h-1zM433 679h1v18h-1zM437 679h1v17h-1zM441 679h1v15h-1zM445 679h1v14h-1zM449 679h1v12h-1zM453 679h1v11h-1zM457 679h1v11h-1zM461 679h1v10h-1zM465 679h1v8h-1zM469 679h1v5h-1zM473 679h1v3h-1zM477 679h1v2h-1zM481 678h1v2h-1zM485 676h1v4h-1zM489 672h1v8h-1zM493 668h1v12h-1zM497 665h1v15h-1zM501 664h1v16h-1zM505 663h1v17h-1zM509 663h1v17h-1zM513 664h1v16h-1zM517 666h1v14h-1zM521 667h1v13h-1zM525 668h1v12h-1zM529 668h1v12h-1zM533 668h1v12h-1zM537 667h1v13h-1zM541 665h1v15h-1zM545 665h1v15h-1zM549 665h1v15h-1zM553 668h1v12h-1zM557 670h1v10h-1zM561 673h1v7h-1zM565 676h1v4h-1zM569 679h1v1h-1zM573 679h1v3h-1zM577 679h1v5h-1zM581 679h1v6h-1zM585 679h1v8h-1zM589 679h1v7h-1zM593 679h1v6h-1zM597 679h1v5h-1zM601 679h1v4h-1zM605 679h1v3h-1zM609 679h1v3h-1zM613 679h1v3h-1zM617 679h1v4h-1zM621 679h1v5h-1zM625 679h1v6h-1zM629 679h1v7h-1zM633 679h1v8h-1zM637 679h1v7h-1zM641 679h1v7h-1zM645 679h1v5h-1zM649 679h1v3h-1zM653 679h1v2h-1zM657 678h1v2h-1zM661 678h1v2h-1zM665 678h1v2h-1zM669 678h1v2h-1zM673 677h1v3h-1zM677 676h1v4h-1zM681 675h1v5h-1zM685 673h1v7h-1zM689 672h1v8h-1zM693 671h1v9h-1zM697 669h1v11h-1zM701 669h1v11h-1zM705 670h1v10h-1zM709 671h1v9h-1zM713 673h1v7h-1zM717 674h1v6h-1zM721 675h1v5h-1zM725 675h1v5h-1zM729 675h1v5h-1zM733 673h1v7h-1zM737 671h1v9h-1zM741 669h1v11h-1zM745 666h1v14h-1zM749 665h1v15h-1zM753 664h1v16h-1zM757 665h1v15h-1zM761 666h1v14h-1zM765 666h1v14h-1zM769 668h1v12h-1zM773 670h1v10h-1zM777 673h1v7h-1zM781 675h1v5h-1zM785 676h1v4h-1zM789 676h1v4h-1zM793 677h1v3h-1zM797 677h1v3h-1zM801 677h1v3h-1zM805 679h1v1h-1zM809 679h1v2h-1zM813 679h1v3h-1zM817 679h1v4h-1zM821 679h1v5h-1zM825 679h1v7h-1zM829 679h1v9h-1zM833 679h1v11h-1zM837 679h1v12h-1zM841 679h1v14h-1zM845 679h1v15h-1zM849 679h1v14h-1zM853 679h1v12h-1zM857 679h1v10h-1zM861 679h1v10h-1zM865 679h1v10h-1zM869 679h1v11h-1zM873 679h1v12h-1zM877 679h1v14h-1zM881 679h1v16h-1zM885 679h1v18h-1zM889 679h1v20h-1zM893 679h1v21h-1zM897 679h1v24h-1zM901 679h1v26h-1zM905 679h1v28h-1zM909 679h1v29h-1zM913 679h1v30h-1zM917 679h1v31h-1zM921 679h1v32h-1zM925 679h1v30h-1zM929 679h1v28h-1zM933 679h1v26h-1zM937 679h1v24h-1zM941 679h1v22h-1zM945 679h1v17h-1zM949 679h1v12h-1zM953 679h1v6h-1zM957 677h1v3h-1zM961 669h1v11h-1zM965 664h1v16h-1zM969 659h1v21h-1zM973 651h1v29h-1zM977 645h1v35h-1zM981 637h1v43h-1zM985 634h1v46h-1zM989 634h1v46h-1zM993 642h1v38h-1zM997 648h1v32h-1zM1001 654h1v26h-1zM1005 656h1v24h-1zM1009 664h1v16h-1zM1013 675h1v5h-1zM1017 679h1v11h-1zM1021 679h1v22h-1zM1025 679h1v31h-1zM1029 679h1v34h-1zM1033 679h1v35h-1zM1037 679h1v35h-1zM1041 679h1v27h-1zM1045 679h1v19h-1zM1049 679h1v11h-1zM1053 679h1v8h-1zM1057 679h1v6h-1zM1061 679h1v7h-1zM1065 679h1v10h-1zM1069 679h1v14h-1zM1073 679h1v17h-1zM1077 679h1v20h-1zM1081 679h1v18h-1zM1085 679h1v18h-1zM1089 679h1v15h-1zM1093 679h1v12h-1zM1097 679h1v11h-1zM1101 679h1v10h-1zM1105 679h1v7h-1zM1109 679h1v7h-1zM1113 679h1v9h-1zM1117 679h1v9h-1zM1121 679h1v10h-1zM1125 679h1v10h-1zM1129 679h1v10h-1zM1133 679h1v12h-1zM1137 679h1v13h-1zM1141 679h1v15h-1zM1145 679h1v16h-1zM1149 679h1v15h-1zM1153 679h1v14h-1zM1157 679h1v13h-1zM1161 679h1v9h-1zM1165 679h1v4h-1zM1169 678h1v2h-1zM1173 677h1v3h-1zM1177 679h1v1h-1zM1181 679h1v4h-1zM1185 679h1v6h-1zM1189 679h1v6h-1zM1193 679h1v7h-1zM1197 679h1v8h-1zM1201 679h1v7h-1zM1205 679h1v7h-1zM1209 679h1v8h-1z" fill="#c0c0c0"/>
<path d="M5 684h3v1h-3zM11 684h3v1h-3zM17 685h3v1h-3zM23 684h3v1h-3zM29 683h3v1h-3zM35 682h1v1h-1zM36 681h2v1h-2zM41 679h2v1h-2zM43 678h1v1h-1zM47 676h2v1h-2zM49 675h1v1h-1zM53 673h2v1h-2zM55 672h1v1h-1zM59 670h2v1h-2zM61 669h1v1h-1zM65 669h3v1h-3zM71 668h1v1h-1zM72 669h2v1h-2zM77 670h3v1h-3zM83 671h3v1h-3zM89 672h3v1h-3zM95 672h1v1h-1zM96 671h2v1h-2zM101 670h3v1h-3zM107 668h2v1h-2zM109 667h1v1h-1zM113 666h2v1h-2zM115 665h1v1h-1zM119 664h3v1h-3zM125 664h3v1h-3zM131 664h1v1h-1zM132 665h2v1h-2zM137 667h2v1h-2zM139 668h1v1h-1zM143 670h1v1h-1zM144 671h1v1h-1zM145 672h1v1h-1zM149 674h2v1h-2zM151 675h1v1h-1zM155 677h2v1h-2zM157 678h1v1h-1zM161 680h3v1h-3zM167 681h1v1h-1zM168 682h2v1h-2zM173 683h3v1h-3zM179 683h3v1h-3zM185 684h3v1h-3zM191 684h1v1h-1zM192 685h2v1h-2zM197 686h3v1h-3zM203 687h1v1h-1zM204 688h2v1h-2zM209 689h3v1h-3zM215 690h1v1h-1zM216 691h2v1h-2zM221 692h3v1h-3zM227 693h1v1h-1zM228 694h2v1h-2zM233 695h3v1h-3zM239 695h3v1h-3zM245 694h3v1h-3zM251 693h1v1h-1zM252 692h2v1h-2zM257 690h2v1h-2zM259 689h1v1h-1zM263 687h2v1h-2zM265 686h1v1h-1zM269 685h3v1h-3zM275 684h1v1h-1zM276 683h2v1h-2zM281 683h3v1h-3zM287 684h1v1h-1zM288 685h2v1h-2zM293 686h3v1h-3zM299 687h1v1h-1zM300 688h2v1h-2zM305 689h3v1h-3zM311 689h3v1h-3zM317 689h3v1h-3zM323 690h3v1h-3zM329 691h3v1h-3zM335 691h1v1h-1zM336 692h2v1h-2zM341 694h3v1h-3zM347 695h1v1h-1zM348 696h2v1h-2zM353 696h3v1h-3zM359 697h3v1h-3zM365 696h3v1h-3zM371 695h1v1h-1zM372 694h2v1h-2zM377 693h2v1h-2zM379 692h1v1h-1zM383 691h1v1h-1zM384 690h2v1h-2zM389 689h3v1h-3zM395 688h3v1h-3zM401 687h3v1h-3zM407 687h3v1h-3zM413 687h3v1h-3zM419 688h3v1h-3zM425 689h3v1h-3zM431 690h1v1h-1zM432 691h2v1h-2zM437 692h3v1h-3zM443 693h3v1h-3zM449 693h3v1h-3zM455 693h1v1h-1zM456 692h2v1h-2zM461 692h3v1h-3zM467 690h2v1h-2zM469 689h1v1h-1zM473 688h2v1h-2zM475 687h1v1h-1zM479 686h1v1h-1zM480 685h2v1h-2zM485 683h2v1h-2zM487 682h1v1h-1zM491 680h2v1h-2zM493 679h1v1h-1zM497 677h1v1h-1zM498 676h2v1h-2zM503 673h2v1h-2zM505 672h1v1h-1zM509 670h2v1h-2zM511 669h1v1h-1zM515 668h1v1h-1zM516 667h2v1h-2zM521 666h3v1h-3zM527 665h3v1h-3zM533 666h3v1h-3zM539 666h3v1h-3zM545 666h3v1h-3zM551 667h3v1h-3zM557 667h3v1h-3zM563 668h1v1h-1zM564 669h2v1h-2zM569 670h3v1h-3zM575 672h2v1h-2zM577 673h1v1h-1zM581 675h1v1h-1zM582 676h2v1h-2zM587 679h2v1h-2zM589 680h1v1h-1zM593 681h3v1h-3zM599 682h1v1h-1zM600 683h2v1h-2zM605 683h3v1h-3zM611 683h3v1h-3zM617 683h3v1h-3zM623 683h1v1h-1zM624 682h2v1h-2zM629 683h3v1h-3zM635 683h3v1h-3zM641 684h3v1h-3zM647 684h3v1h-3zM653 684h3v1h-3zM659 683h3v1h-3zM665 682h3v1h-3zM671 681h1v1h-1zM672 680h2v1h-2zM677 679h3v1h-3zM683 678h1v1h-1zM684 677h2v1h-2zM689 676h3v1h-3zM695 675h1v1h-1zM696 674h2v1h-2zM701 673h3v1h-3zM707 672h3v1h-3zM713 671h3v1h-3zM719 671h1v1h-1zM720 672h2v1h-2zM725 672h3v1h-3zM731 673h3v1h-3zM737 673h3v1h-3zM743 673h3v1h-3zM749 672h3v1h-3zM755 670h2v1h-2zM757 669h1v1h-1zM761 668h3v1h-3zM767 667h3v1h-3zM773 667h3v1h-3zM779 667h1v1h-1zM780 668h2v1h-2zM785 669h3v1h-3zM791 671h2v1h-2zM793 672h1v1h-1zM797 673h3v1h-3zM803 674h1v1h-1zM804 675h2v1h-2zM809 677h3v1h-3zM815 677h1v1h-1zM816 678h2v1h-2zM821 679h3v1h-3zM827 680h1v1h-1zM828 681h2v1h-2zM833 682h2v1h-2zM835 683h1v1h-1zM839 684h1v1h-1zM840 685h2v1h-2zM845 687h3v1h-3zM851 688h1v1h-1zM852 689h2v1h-2zM857 690h3v1h-3zM863 690h3v1h-3zM869 690h3v1h-3zM875 690h3v1h-3zM881 690h3v1h-3zM887 691h3v1h-3zM893 693h3v1h-3zM899 695h2v1h-2zM901 696h1v1h-1zM905 698h2v1h-2zM907 699h1v1h-1zM911 701h2v1h-2zM913 702h1v1h-1zM917 703h2v1h-2zM919 704h1v1h-1zM923 705h1v1h-1zM924 706h2v1h-2zM929 707h3v1h-3zM935 707h3v1h-3zM941 706h3v1h-3zM947 704h2v1h-2zM949 703h1v1h-1zM953 700h1v1h-1zM954 699h1v1h-1zM955 698h1v1h-1zM959 694h1v1h-1zM960 693h1v1h-1zM961 692h1v1h-1zM964 688h1v1h-1zM965 687h1v1h-1zM966 686h1v1h-1zM969 682h1v1h-1zM970 681h1v1h-1zM971 680h1v1h-1zM974 675h1v2h-1zM975 674h1v1h-1zM977 670h1v1h-1zM978 668h1v2h-1zM981 664h1v1h-1zM982 662h1v2h-1zM985 658h1v1h-1zM986 656h1v2h-1zM989 652h1v1h-1zM990 651h1v1h-1zM991 650h1v1h-1zM995 647h2v1h-2zM997 646h1v1h-1zM1001 645h3v1h-3zM1007 645h1v1h-1zM1008 646h2v1h-2zM1013 649h1v1h-1zM1014 650h1v2h-1zM1017 655h1v1h-1zM1018 656h1v2h-1zM1020 661h1v1h-1zM1021 662h1v2h-1zM1023 667h1v1h-1zM1024 668h1v2h-1zM1026 673h1v2h-1zM1027 675h1v1h-1zM1029 679h1v1h-1zM1030 680h1v2h-1zM1032 685h1v1h-1zM1033 686h1v1h-1zM1034 687h1v1h-1zM1036 691h1v1h-1zM1037 692h1v1h-1zM1038 693h1v1h-1zM1040 697h1v1h-1zM1041 698h1v1h-1zM1042 699h1v1h-1zM1046 701h1v1h-1zM1047 702h2v1h-2zM1052 703h3v1h-3zM1058 700h2v1h-2zM1060 699h1v1h-1zM1064 696h1v1h-1zM1065 695h2v1h-2zM1070 693h1v1h-1zM1071 692h2v1h-2zM1076 690h3v1h-3zM1082 690h2v1h-2zM1084 691h1v1h-1zM1088 692h3v1h-3zM1094 693h3v1h-3zM1100 693h3v1h-3zM1106 692h2v1h-2zM1108 691h1v1h-1zM1112 690h3v1h-3zM1118 689h2v1h-2zM1120 688h1v1h-1zM1124 687h3v1h-3zM1130 687h3v1h-3zM1136 688h3v1h-3zM1142 688h2v1h-2zM1144 689h1v1h-1zM1148 690h3v1h-3zM1154 691h3v1h-3zM1160 691h3v1h-3zM1166 690h2v1h-2zM1168 689h1v1h-1zM1172 688h1v1h-1zM1173 687h2v1h-2zM1178 686h2v1h-2zM1180 685h1v1h-1zM1184 684h3v1h-3zM1190 683h2v1h-2zM1192 682h1v1h-1zM1196 682h3v1h-3zM1202 682h2v1h-2zM1204 683h1v1h-1zM1208 684h2v1h-2z" fill="#ff0000"/>
<text x="9.4" y="640" font-size="10" fill="#000" stroke="#000" stroke-width="0.2" textLength="153" lengthAdjust="spacingAndGlyphs" >MACD(12,26,9) -0.001577 -0.001198</text>
<text x="1524" y="638" font-size="10" fill="#000" stroke="#000" stroke-width="0.2" >0.011277</text>
<text x="1524" y="683" font-size="10" fill="#000" stroke="#000" stroke-width="0.2" >0.00</text>
<text x="1524" y="715" font-size="10" fill="#000" stroke="#000" stroke-width="0.2" >-0.008845</text>
<rect x="1521" y="679" width="2" height="1" fill="#000"/>
<rect x="1521" y="718" width="1" height="1" fill="#000"/>
<rect x="5" y="720" width="1" height="3" fill="#000"/>
<text x="4" y="732" font-size="10" fill="#000" stroke="#000" stroke-width="0.2" textLength="55.5" lengthAdjust="spacingAndGlyphs" >29 May 2019</text>
<rect x="69" y="720" width="1" height="3" fill="#000"/>
<text x="68" y="732" font-size="10" fill="#000" stroke="#000" stroke-width="0.2" textLength="50.5" lengthAdjust="spacingAndGlyphs" >17 Jun 2019</text>
<rect x="133" y="720" width="1" height="3" fill="#000"/>
<text x="132" y="732" font-size="10" fill="#000" stroke="#000" stroke-width="0.2" textLength="42.5" lengthAdjust="spacingAndGlyphs" >5 Jul 2019</text>
<rect x="197" y="720" width="1" height="3" fill="#000"/>
<text x="196" y="732" font-size="10" fill="#000" stroke="#000" stroke-width="0.2" textLength="47.5" lengthAdjust="spacingAndGlyphs" >24 Jul 2019</text>
<rect x="261" y="720" width="1" height="3" fill="#000"/>
<text x="260" y="732" font-size="10" fill="#000" stroke="#000" stroke-width="0.2" textLength="52.5" lengthAdjust="spacingAndGlyphs" >12 Aug 2019</text>
<rect x="325" y="720" width="1" height="3" fill="#000"/>
<text x="324" y="732" font-size="10" fill="#000" stroke="#000" stroke-width="0.2" textLength="52.5" lengthAdjust="spacingAndGlyphs" >30 Aug 2019</text>
<rect x="389" y="720" width="1" height="3" fill="#000"/>
<text x="388" y="732" font-size="10" fill="#000" stroke="#000" stroke-width="0.2" textLength="51.5" lengthAdjust="spacingAndGlyphs" >18 Sep 2019</text>
<rect x="453" y="720" width="1" height="3" fill="#000"/>
<text x="452" y="732" font-size="10" fill="#000" stroke="#000" stroke-width="0.2" textLength="45.5" lengthAdjust="spacingAndGlyphs" >7 Oct 2019</text>
<rect x="517" y="720" width="1" height="3" fill="#000"/>
<text x="516" y="732" font-size="10" fill="#000" stroke="#000" stroke-width="0.2" textLength="50.5" lengthAdjust="spacingAndGlyphs" >25 Oct 2019</text>
<rect x="581" y="720" width="1" height="3" fill="#000"/>
<text x="580" y="732" font-size="10" fill="#000" stroke="#000" stroke-width="0.2" textLength="52.5" lengthAdjust="spacingAndGlyphs" >13 Nov 2019</text>
<rect x="645" y="720" width="1" height="3" fill="#000"/>
<text x="644" y="732" font-size="10" fill="#000" stroke="#000" stroke-width="0.2" textLength="46.5" lengthAdjust="spacingAndGlyphs" >2 Dec 2019</text>
<rect x="709" y="720" width="1" height="3" fill="#000"/>
<text x="708" y="732" font-size="10" fill="#000" stroke="#000" stroke-width="0.2" textLength="51.5" lengthAdjust="spacingAndGlyphs" >20 Dec 2019</text>
<rect x="773" y="720" width="1" height="3" fill="#000"/>
<text x="772" y="732" font-size="10" fill="#000" stroke="#000" stroke-width="0.2" textLength="45.5" lengthAdjust="spacingAndGlyphs" >8 Jan 2020</text>
<rect x="837" y="720" width="1" height="3" fill="#000"/>
<text x="836" y="732" font-size="10" fill="#000" stroke="#000" stroke-width="0.2" textLength="50.5" lengthAdjust="spacingAndGlyphs" >27 Jan 2020</text>
<rect x="901" y="720" width="1" height="3" fill="#000"/>
<text x="900" y="732" font-size="10" fill="#000" stroke="#000" stroke-width="0.2" textLength="51.5" lengthAdjust="spacingAndGlyphs" >14 Feb 2020</text>
<rect x="965" y="720" width="1" height="3" fill="#000"/>
<text x="964" y="732" font-size="10" fill="#000" stroke="#000" stroke-width="0.2" textLength="48.5" lengthAdjust="spacingAndGlyphs" >4 Mar 2020</text>
<rect x="1029" y="720" width="1" height="3" fill="#000"/>
<text x="1028" y="732" font-size="10" fill="#000" stroke="#000" stroke-width="0.2" textLength="53.5" lengthAdjust="spacingAndGlyphs" >23 Mar 2020</text>
<rect x="1093" y="720" width="1" height="3" fill="#000"/>
<text x="1092" y="732" font-size="10" fill="#000" stroke="#000" stroke-width="0.2" textLength="50.5" lengthAdjust="spacingAndGlyphs" >10 Apr 2020</text>
<rect x="1157" y="720" width="1" height="3" fill="#000"/>
<text x="1156" y="732" font-size="10" fill="#000" stroke="#000" stroke-width="0.2" textLength="50.5" lengthAdjust="spacingAndGlyphs" >29 Apr 2020</text>
<rect x="0" y="740" width="1563" height="1" fill="#e0e0e0"/>
<rect x="0" y="741" width="1563" height="21" fill="#f0f0f0"/>
<rect x="0" y="742" width="1563" height="1" fill="#000"/>
<rect x="6" y="742" width="104" height="19" fill="#000"/>
<rect x="7" y="742" width="102" height="18" fill="#fff"/>
<rect x="7" y="741" width="102" height="1" fill="#fff"/>
<text x="18.4" y="757" font-size="13" fill="#000" textLength="79.4" lengthAdjust="spacingAndGlyphs" >EURUSD,Daily</text>
<text x="120.3" y="757" font-size="13" fill="#707070" textLength="78.0" lengthAdjust="spacingAndGlyphs" >USDCHF,Daily</text>
<rect x="211" y="745" width="1" height="14" fill="#707070"/>
<text x="221.4" y="757" font-size="13" fill="#707070" textLength="81.4" lengthAdjust="spacingAndGlyphs" >AUDUSD,Daily</text>
<rect x="315" y="745" width="1" height="14" fill="#707070"/>
<text x="325.5" y="757" font-size="13" fill="#707070" textLength="80.5" lengthAdjust="spacingAndGlyphs" >USDCAD,Daily</text>
<rect x="418" y="745" width="1" height="14" fill="#707070"/>
<text x="428.2" y="757" font-size="13" fill="#707070" textLength="82.5" lengthAdjust="spacingAndGlyphs" >USDCNH,Daily</text>
<rect x="523" y="745" width="1" height="14" fill="#707070"/>
<text x="534" y="757" font-size="13" fill="#707070" textLength="79.9" lengthAdjust="spacingAndGlyphs" >EURUSD,Daily</text>
<rect x="626" y="745" width="1" height="14" fill="#707070"/>
<text x="637.8" y="757" font-size="13" fill="#707070" textLength="67.5" lengthAdjust="spacingAndGlyphs" >GBPUSD,H4</text>
<rect x="718" y="745" width="1" height="14" fill="#707070"/>
<text x="728.6" y="757" font-size="13" fill="#707070" textLength="68.9" lengthAdjust="spacingAndGlyphs" >XAUUSD,H4</text>
<rect x="810" y="745" width="1" height="14" fill="#707070"/>
<text x="821.4" y="757" font-size="13" fill="#707070" textLength="48.6" lengthAdjust="spacingAndGlyphs" >HK50,H1</text>
<rect x="882" y="745" width="1" height="14" fill="#707070"/>
<text x="893.3" y="757" font-size="13" fill="#707070" textLength="56.6" lengthAdjust="spacingAndGlyphs" >UK100,H1</text>
<rect x="962" y="745" width="1" height="14" fill="#707070"/>
<text x="973.1" y="757" font-size="13" fill="#707070" textLength="56.6" lengthAdjust="spacingAndGlyphs" >UK100,H1</text>
<rect x="1042" y="745" width="1" height="14" fill="#707070"/>
<text x="1053" y="757" font-size="13" fill="#707070" textLength="56.5" lengthAdjust="spacingAndGlyphs" >GER30,H1</text>
<rect x="1123" y="745" width="1" height="14" fill="#707070"/>
<text x="1132.2" y="757" font-size="13" fill="#707070" textLength="53.8" lengthAdjust="spacingAndGlyphs" >FRA40,H1</text>
<rect x="1199" y="745" width="1" height="14" fill="#707070"/>
<text x="1208.3" y="757" font-size="13" fill="#707070" textLength="49.9" lengthAdjust="spacingAndGlyphs" >USOil,H1</text>
<rect x="1271" y="745" width="1" height="14" fill="#707070"/>
<text x="1280.2" y="757" font-size="13" fill="#707070" textLength="62.2" lengthAdjust="spacingAndGlyphs" >USDJPY,H1</text>
<rect x="1356" y="745" width="1" height="14" fill="#707070"/>
<text x="1364.6" y="757" font-size="13" fill="#707070" textLength="45.9" lengthAdjust="spacingAndGlyphs" >DJ30,H1</text>
<rect x="1422" y="745" width="1" height="14" fill="#707070"/>
<path d="M1539.5 748 L1539.5 755 L1535.5 751.5 Z" fill="#a0a0a0" shape-rendering="geometricPrecision"/>
<path d="M1555 748 L1555 755 L1559 751.5 Z" fill="#a0a0a0" shape-rendering="geometricPrecision"/>
</svg></body></html>
